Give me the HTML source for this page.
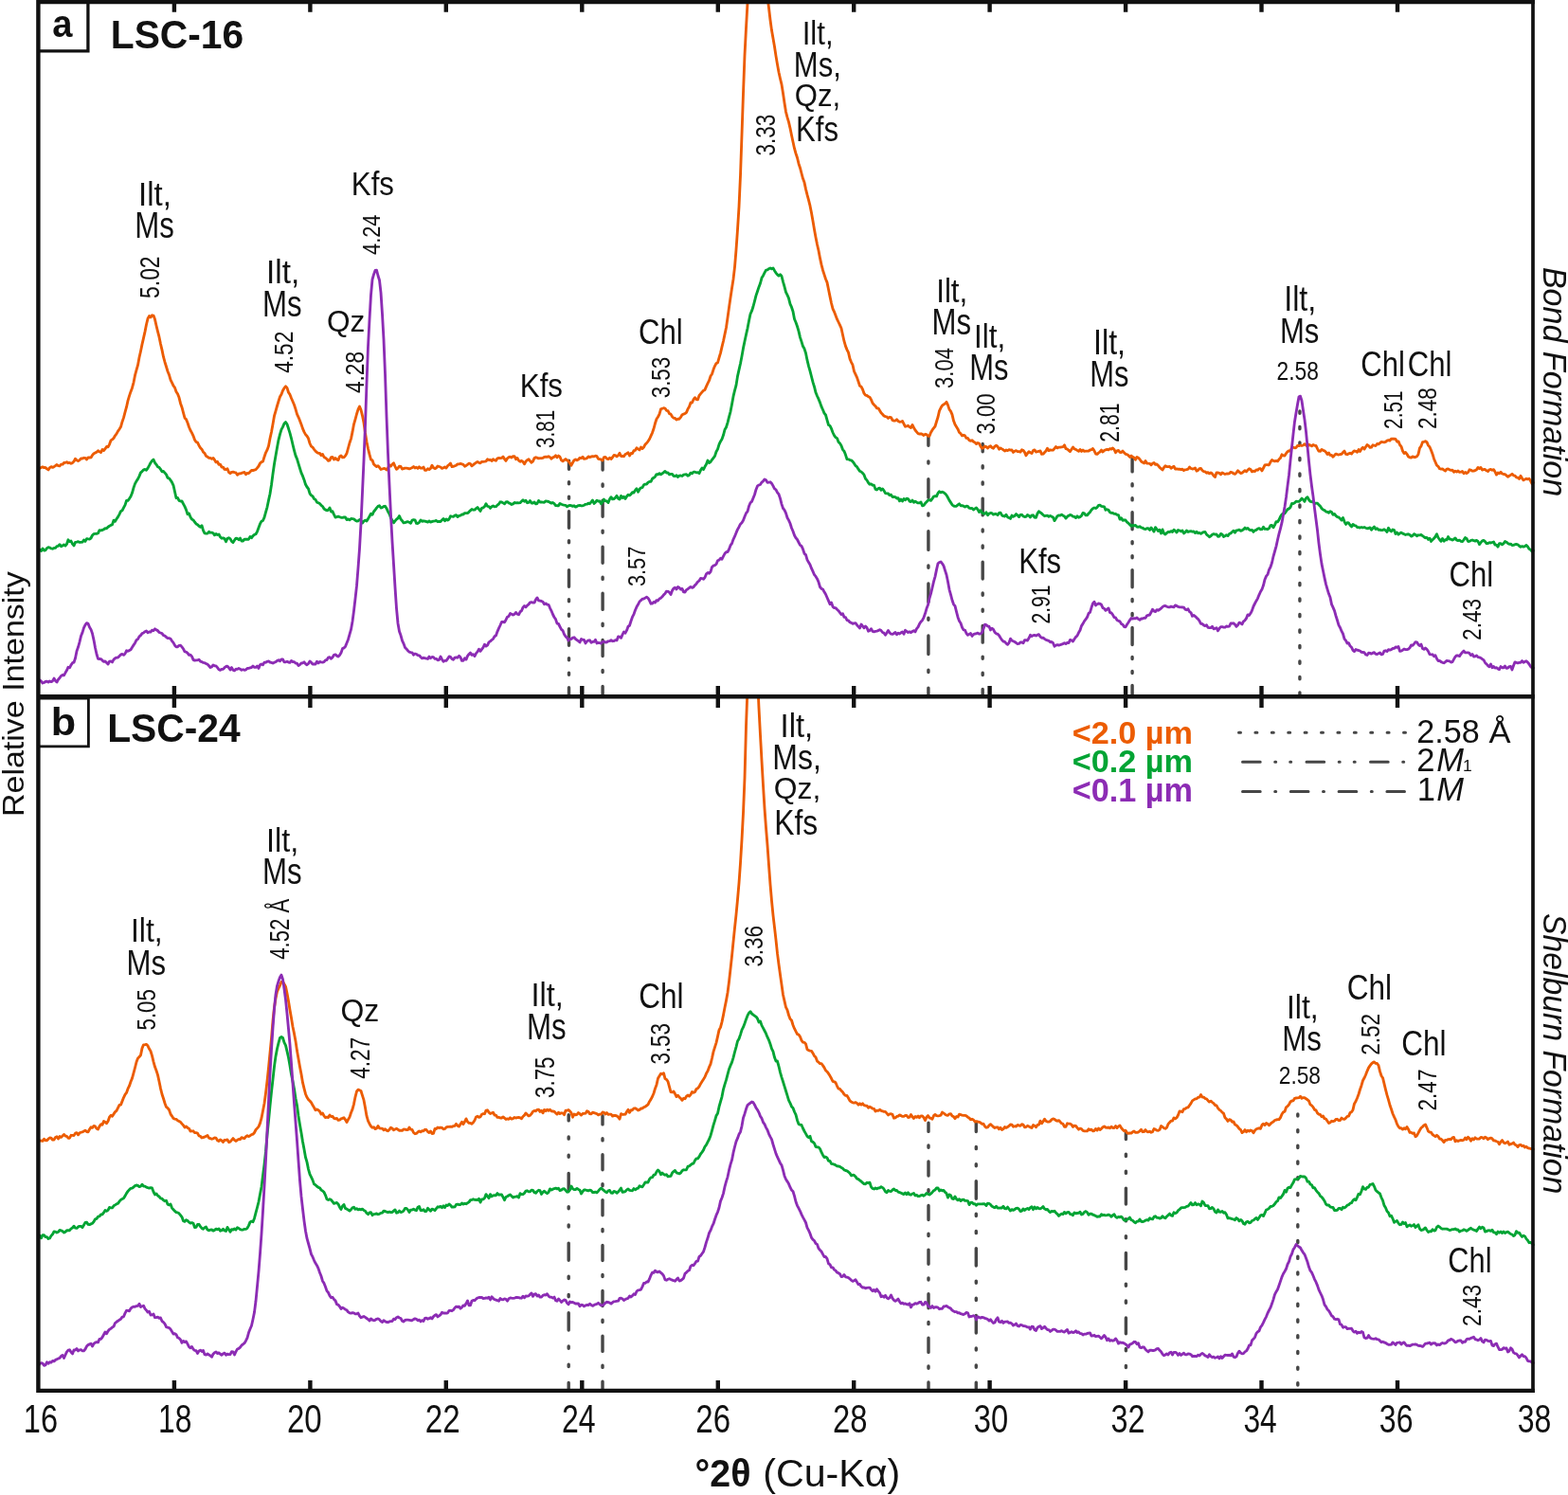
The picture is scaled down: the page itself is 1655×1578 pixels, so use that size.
<!DOCTYPE html><html><head><meta charset="utf-8"><title>XRD patterns LSC-16 and LSC-24</title><style>html,body{margin:0;padding:0;background:#fff;overflow:hidden}svg{display:block}text{font-family:"Liberation Sans",Arial,Helvetica,sans-serif}</style></head><body>
<svg width="1655" height="1578" viewBox="0 0 1655 1578">
<defs><clipPath id="ca"><rect x="40" y="0" width="1580" height="734"/></clipPath><clipPath id="cb"><rect x="40" y="736" width="1580" height="731"/></clipPath></defs>
<rect width="1655" height="1578" fill="#fff"/><g fill="#111">
<g stroke="#464646" stroke-width="3.4" stroke-linecap="round" fill="none">
<line x1="600.5" y1="486.2" x2="600.5" y2="733.0" stroke-dasharray="17.60 13.33 2.20 13.33 2.20 13.33" stroke-dashoffset="8.50"/>
<line x1="636.1" y1="486.2" x2="636.1" y2="733.0" stroke-dasharray="17.10 14.90 2.20 14.90" stroke-dashoffset="7.20"/>
<line x1="979.9" y1="461.0" x2="979.9" y2="733.0" stroke-dasharray="19.60 16.65 2.20 16.65" stroke-dashoffset="10.40"/>
<line x1="1037.2" y1="468.4" x2="1037.2" y2="733.0" stroke-dasharray="17.80 14.97 2.20 14.97 2.20 14.97" stroke-dashoffset="9.40"/>
<line x1="1195.1" y1="483.0" x2="1195.1" y2="733.0" stroke-dasharray="18.10 12.80 2.20 12.80 2.20 12.80" stroke-dashoffset="3.20"/>
<line x1="1371.9" y1="428.0" x2="1371.9" y2="733.0" stroke-dasharray="2.20 14.30" stroke-dashoffset="10.50"/>
<line x1="600.2" y1="1176.7" x2="600.2" y2="1465.5" stroke-dasharray="18.20 17.03 2.20 17.03 2.20 17.03" stroke-dashoffset="12.00"/>
<line x1="636.0" y1="1177.7" x2="636.0" y2="1465.5" stroke-dasharray="16.10 14.80 2.20 14.80" stroke-dashoffset="6.90"/>
<line x1="980.0" y1="1185.2" x2="980.0" y2="1465.5" stroke-dasharray="15.10 14.65 2.20 14.65" stroke-dashoffset="5.90"/>
<line x1="1030.3" y1="1185.2" x2="1030.3" y2="1465.5" stroke-dasharray="18.50 15.97 2.20 15.97 2.20 15.97" stroke-dashoffset="9.20"/>
<line x1="1188.4" y1="1194.6" x2="1188.4" y2="1465.5" stroke-dasharray="16.90 15.70 2.20 15.70 2.20 15.70" stroke-dashoffset="8.90"/>
<line x1="1369.8" y1="1168.0" x2="1369.8" y2="1465.5" stroke-dasharray="2.20 14.50" stroke-dashoffset="8.80"/>
</g>
<g fill="none" stroke-width="2.85" stroke-linejoin="round" stroke-linecap="round">
<g clip-path="url(#ca)">
<path stroke="#EC5C02" d="M40.5 493.7 L42.0 494.2 L43.5 493.4 L45.0 492.9 L46.5 493.6 L48.0 493.4 L49.5 494.9 L51.0 495.9 L52.5 493.6 L54.0 492.6 L55.5 493.4 L57.0 492.7 L58.5 491.6 L60.0 490.5 L61.5 491.7 L63.0 491.9 L64.5 490.1 L66.0 490.2 L67.5 488.5 L69.0 488.3 L70.5 487.7 L72.0 488.7 L73.5 488.4 L75.0 489.2 L76.5 488.6 L78.0 487.1 L79.5 484.2 L81.0 485.7 L82.5 486.6 L84.0 485.6 L85.5 483.9 L87.0 484.0 L88.5 483.3 L90.0 483.4 L91.5 485.0 L93.0 482.9 L94.5 483.0 L96.0 482.9 L97.5 480.4 L99.0 478.7 L100.5 477.9 L102.0 477.2 L103.5 475.7 L105.0 476.8 L106.5 477.6 L108.0 474.5 L109.5 475.5 L111.0 473.8 L112.5 471.4 L114.0 471.9 L115.5 469.1 L117.0 464.9 L118.5 463.9 L120.0 462.5 L121.5 459.8 L123.0 457.9 L124.5 455.1 L126.0 453.0 L127.5 450.6 L129.0 445.2 L130.5 440.9 L132.0 435.2 L133.5 429.7 L135.0 422.9 L136.5 417.9 L138.0 413.4 L139.5 409.4 L141.0 403.8 L142.5 396.2 L144.0 390.7 L145.5 385.4 L147.0 377.3 L148.5 370.7 L150.0 363.4 L151.5 356.9 L153.0 350.1 L154.5 342.5 L156.0 336.3 L157.5 333.6 L159.0 334.9 L160.5 332.8 L162.0 333.1 L163.5 337.1 L165.0 343.7 L166.5 349.9 L168.0 355.7 L169.5 363.0 L171.0 369.4 L172.5 376.7 L174.0 382.2 L175.5 387.0 L177.0 392.0 L178.5 395.6 L180.0 400.8 L181.5 403.9 L183.0 407.2 L184.5 409.1 L186.0 413.5 L187.5 415.8 L189.0 419.6 L190.5 425.7 L192.0 429.9 L193.5 435.6 L195.0 441.2 L196.5 442.6 L198.0 446.2 L199.5 450.7 L201.0 454.2 L202.5 456.9 L204.0 460.1 L205.5 464.2 L207.0 466.5 L208.5 467.1 L210.0 470.2 L211.5 472.7 L213.0 474.2 L214.5 477.2 L216.0 478.3 L217.5 481.3 L219.0 482.2 L220.5 483.3 L222.0 483.4 L223.5 484.2 L225.0 483.4 L226.5 485.4 L228.0 487.9 L229.5 487.3 L231.0 490.4 L232.5 490.1 L234.0 493.0 L235.5 493.1 L237.0 495.4 L238.5 495.5 L240.0 494.7 L241.5 498.5 L243.0 499.6 L244.5 498.3 L246.0 498.2 L247.5 498.7 L249.0 498.9 L250.5 501.3 L252.0 500.0 L253.5 499.9 L255.0 499.4 L256.5 498.8 L258.0 498.5 L259.5 500.8 L261.0 499.4 L262.5 499.6 L264.0 498.0 L265.5 496.4 L267.0 496.5 L268.5 496.1 L270.0 495.7 L271.5 493.9 L273.0 492.0 L274.5 489.0 L276.0 487.6 L277.5 487.2 L279.0 482.2 L280.5 477.8 L282.0 474.9 L283.5 470.8 L285.0 462.8 L286.5 456.0 L288.0 447.7 L289.5 439.0 L291.0 433.8 L292.5 428.5 L294.0 423.5 L295.5 418.8 L297.0 416.2 L298.5 412.3 L300.0 409.7 L301.5 407.8 L303.0 409.4 L304.5 414.2 L306.0 416.4 L307.5 420.2 L309.0 423.7 L310.5 427.3 L312.0 431.9 L313.5 437.1 L315.0 440.3 L316.5 444.0 L318.0 447.9 L319.5 452.4 L321.0 455.9 L322.5 458.6 L324.0 460.3 L325.5 462.8 L327.0 468.0 L328.5 471.1 L330.0 472.1 L331.5 474.3 L333.0 476.1 L334.5 477.5 L336.0 478.4 L337.5 478.4 L339.0 480.6 L340.5 479.4 L342.0 482.5 L343.5 483.3 L345.0 484.5 L346.5 486.3 L348.0 485.8 L349.5 482.6 L351.0 482.5 L352.5 485.0 L354.0 483.6 L355.5 485.0 L357.0 485.6 L358.5 482.0 L360.0 481.0 L361.5 482.8 L363.0 482.7 L364.5 481.1 L366.0 478.5 L367.5 473.0 L369.0 467.5 L370.5 463.1 L372.0 455.9 L373.5 447.8 L375.0 442.6 L376.5 437.0 L378.0 432.1 L379.5 429.0 L381.0 432.6 L382.5 438.8 L384.0 446.3 L385.5 457.0 L387.0 466.2 L388.5 473.6 L390.0 479.7 L391.5 485.2 L393.0 485.8 L394.5 490.0 L396.0 491.4 L397.5 492.5 L399.0 491.6 L400.5 493.4 L402.0 495.5 L403.5 495.0 L405.0 494.5 L406.5 494.7 L408.0 496.0 L409.5 494.0 L411.0 490.9 L412.5 492.0 L414.0 490.1 L415.5 488.8 L417.0 492.4 L418.5 495.3 L420.0 494.1 L421.5 492.1 L423.0 492.5 L424.5 495.1 L426.0 494.5 L427.5 494.1 L429.0 494.1 L430.5 494.3 L432.0 494.8 L433.5 494.3 L435.0 493.7 L436.5 492.5 L438.0 494.0 L439.5 493.3 L441.0 494.4 L442.5 492.8 L444.0 494.1 L445.5 494.2 L447.0 493.0 L448.5 496.3 L450.0 496.4 L451.5 494.8 L453.0 495.6 L454.5 494.4 L456.0 491.2 L457.5 493.8 L459.0 494.6 L460.5 493.9 L462.0 492.0 L463.5 492.5 L465.0 493.0 L466.5 494.4 L468.0 493.7 L469.5 492.9 L471.0 494.0 L472.5 491.7 L474.0 490.6 L475.5 489.1 L477.0 492.6 L478.5 492.4 L480.0 491.8 L481.5 491.2 L483.0 489.9 L484.5 489.8 L486.0 489.4 L487.5 489.9 L489.0 490.4 L490.5 492.2 L492.0 491.4 L493.5 490.3 L495.0 489.2 L496.5 489.7 L498.0 491.8 L499.5 490.7 L501.0 489.4 L502.5 488.3 L504.0 487.4 L505.5 488.4 L507.0 488.8 L508.5 487.4 L510.0 487.3 L511.5 487.2 L513.0 486.9 L514.5 484.8 L516.0 485.5 L517.5 485.3 L519.0 486.5 L520.5 484.7 L522.0 485.7 L523.5 486.3 L525.0 483.8 L526.5 483.4 L528.0 483.7 L529.5 483.4 L531.0 482.1 L532.5 484.5 L534.0 486.4 L535.5 483.8 L537.0 482.7 L538.5 482.2 L540.0 483.0 L541.5 481.6 L543.0 481.6 L544.5 484.7 L546.0 483.4 L547.5 486.1 L549.0 487.2 L550.5 486.3 L552.0 487.4 L553.5 489.8 L555.0 487.0 L556.5 485.6 L558.0 484.7 L559.5 486.6 L561.0 488.2 L562.5 486.9 L564.0 483.6 L565.5 482.8 L567.0 483.2 L568.5 483.9 L570.0 483.6 L571.5 483.7 L573.0 483.4 L574.5 482.3 L576.0 482.1 L577.5 482.4 L579.0 481.7 L580.5 482.6 L582.0 484.2 L583.5 482.9 L585.0 482.2 L586.5 480.8 L588.0 482.8 L589.5 481.1 L591.0 482.2 L592.5 485.8 L594.0 486.7 L595.5 485.7 L597.0 484.5 L598.5 485.8 L600.0 486.7 L601.5 489.0 L603.0 491.2 L604.5 488.3 L606.0 485.7 L607.5 484.9 L609.0 485.8 L610.5 485.0 L612.0 483.3 L613.5 483.6 L615.0 482.2 L616.5 484.3 L618.0 484.2 L619.5 483.7 L621.0 481.9 L622.5 482.6 L624.0 482.0 L625.5 481.7 L627.0 481.8 L628.5 481.2 L630.0 481.7 L631.5 484.4 L633.0 484.6 L634.5 485.1 L636.0 486.0 L637.5 482.6 L639.0 482.4 L640.5 484.1 L642.0 484.6 L643.5 483.2 L645.0 484.5 L646.5 482.8 L648.0 480.5 L649.5 480.7 L651.0 481.9 L652.5 480.7 L654.0 478.3 L655.5 481.5 L657.0 481.3 L658.5 481.7 L660.0 479.5 L661.5 478.7 L663.0 477.8 L664.5 480.9 L666.0 478.4 L667.5 478.7 L669.0 475.7 L670.5 475.3 L672.0 472.8 L673.5 474.0 L675.0 474.9 L676.5 472.1 L678.0 473.6 L679.5 472.0 L681.0 469.1 L682.5 467.7 L684.0 465.8 L685.5 463.5 L687.0 460.2 L688.5 456.8 L690.0 452.5 L691.5 446.8 L693.0 442.2 L694.5 440.0 L696.0 437.1 L697.5 431.9 L699.0 431.3 L700.5 430.7 L702.0 431.1 L703.5 433.3 L705.0 433.6 L706.5 436.6 L708.0 437.1 L709.5 439.8 L711.0 441.2 L712.5 441.5 L714.0 443.1 L715.5 442.2 L717.0 442.2 L718.5 440.4 L720.0 437.7 L721.5 437.1 L723.0 436.5 L724.5 435.4 L726.0 431.7 L727.5 429.3 L729.0 425.0 L730.5 425.0 L732.0 421.7 L733.5 419.7 L735.0 421.6 L736.5 421.8 L738.0 417.5 L739.5 415.7 L741.0 413.9 L742.5 412.2 L744.0 411.4 L745.5 407.9 L747.0 404.7 L748.5 401.7 L750.0 397.0 L751.5 394.8 L753.0 390.1 L754.5 386.3 L756.0 383.5 L757.5 382.9 L759.0 377.7 L760.5 372.6 L762.0 366.2 L763.5 360.0 L765.0 352.9 L766.5 345.8 L768.0 335.4 L769.5 324.6 L771.0 314.3 L772.5 304.3 L774.0 294.7 L775.5 281.8 L777.0 263.7 L778.5 242.4 L780.0 218.3 L781.5 185.3 L783.0 142.1 L784.5 98.4 L786.0 58.3 L787.5 29.5 L789.0 3.1 L790.5 -21.8 L792.0 -45.6 L793.5 -65.2 L795.0 -78.4 L796.5 -87.3 L798.0 -89.8 L799.5 -86.9 L801.0 -80.4 L802.5 -69.0 L804.0 -56.2 L805.5 -42.7 L807.0 -29.0 L808.5 -16.2 L810.0 -3.3 L811.5 8.3 L813.0 21.0 L814.5 32.1 L816.0 40.5 L817.5 49.2 L819.0 59.1 L820.5 68.1 L822.0 76.3 L823.5 83.0 L825.0 89.1 L826.5 98.5 L828.0 108.8 L829.5 118.1 L831.0 123.9 L832.5 128.9 L834.0 135.3 L835.5 142.8 L837.0 149.7 L838.5 156.7 L840.0 162.0 L841.5 166.5 L843.0 172.7 L844.5 177.2 L846.0 183.0 L847.5 188.6 L849.0 192.6 L850.5 199.6 L852.0 205.7 L853.5 211.1 L855.0 217.2 L856.5 224.8 L858.0 233.2 L859.5 242.3 L861.0 250.4 L862.5 258.0 L864.0 264.5 L865.5 272.4 L867.0 279.4 L868.5 285.2 L870.0 289.9 L871.5 294.5 L873.0 298.1 L874.5 305.5 L876.0 312.9 L877.5 320.0 L879.0 325.9 L880.5 329.1 L882.0 333.0 L883.5 336.9 L885.0 340.0 L886.5 343.1 L888.0 346.5 L889.5 353.5 L891.0 360.2 L892.5 365.4 L894.0 369.1 L895.5 372.2 L897.0 378.6 L898.5 382.3 L900.0 385.2 L901.5 392.0 L903.0 395.2 L904.5 398.4 L906.0 402.7 L907.5 407.3 L909.0 408.1 L910.5 411.0 L912.0 415.2 L913.5 417.2 L915.0 417.5 L916.5 418.6 L918.0 419.2 L919.5 421.9 L921.0 425.5 L922.5 427.2 L924.0 428.7 L925.5 430.8 L927.0 430.8 L928.5 433.2 L930.0 435.8 L931.5 437.3 L933.0 439.0 L934.5 439.6 L936.0 439.9 L937.5 441.4 L939.0 440.3 L940.5 440.6 L942.0 443.5 L943.5 444.1 L945.0 444.0 L946.5 442.8 L948.0 444.5 L949.5 445.3 L951.0 445.2 L952.5 444.4 L954.0 447.5 L955.5 450.2 L957.0 449.8 L958.5 449.3 L960.0 450.7 L961.5 451.4 L963.0 448.4 L964.5 451.5 L966.0 454.0 L967.5 455.8 L969.0 457.6 L970.5 458.0 L972.0 457.8 L973.5 458.4 L975.0 459.5 L976.5 458.3 L978.0 458.6 L979.5 460.3 L981.0 460.3 L982.5 456.4 L984.0 453.9 L985.5 451.9 L987.0 450.0 L988.5 445.0 L990.0 440.3 L991.5 433.6 L993.0 430.6 L994.5 428.1 L996.0 426.9 L997.5 426.1 L999.0 424.3 L1000.5 427.6 L1002.0 432.1 L1003.5 434.1 L1005.0 437.6 L1006.5 444.1 L1008.0 448.0 L1009.5 450.5 L1011.0 452.9 L1012.5 456.5 L1014.0 457.7 L1015.5 459.9 L1017.0 459.2 L1018.5 459.9 L1020.0 462.4 L1021.5 462.4 L1023.0 464.8 L1024.5 465.4 L1026.0 464.7 L1027.5 466.3 L1029.0 467.0 L1030.5 468.6 L1032.0 467.5 L1033.5 468.1 L1035.0 471.1 L1036.5 473.1 L1038.0 472.9 L1039.5 471.0 L1041.0 471.6 L1042.5 473.1 L1044.0 471.6 L1045.5 470.8 L1047.0 472.5 L1048.5 473.2 L1050.0 471.2 L1051.5 470.2 L1053.0 471.4 L1054.5 474.2 L1056.0 472.9 L1057.5 473.9 L1059.0 474.8 L1060.5 476.0 L1062.0 475.0 L1063.5 475.6 L1065.0 474.6 L1066.5 475.1 L1068.0 474.9 L1069.5 477.4 L1071.0 476.2 L1072.5 475.6 L1074.0 476.5 L1075.5 476.6 L1077.0 477.1 L1078.5 474.8 L1080.0 475.3 L1081.5 477.4 L1083.0 480.8 L1084.5 478.5 L1086.0 476.8 L1087.5 477.8 L1089.0 478.5 L1090.5 475.6 L1092.0 474.9 L1093.5 477.0 L1095.0 476.7 L1096.5 476.3 L1098.0 475.9 L1099.5 479.3 L1101.0 479.2 L1102.5 477.5 L1104.0 476.0 L1105.5 473.3 L1107.0 475.6 L1108.5 474.9 L1110.0 475.1 L1111.5 475.1 L1113.0 473.3 L1114.5 471.5 L1116.0 472.9 L1117.5 472.1 L1119.0 472.2 L1120.5 471.9 L1122.0 471.6 L1123.5 469.8 L1125.0 473.7 L1126.5 474.0 L1128.0 475.3 L1129.5 476.6 L1131.0 474.2 L1132.5 472.0 L1134.0 473.8 L1135.5 474.3 L1137.0 475.4 L1138.5 476.3 L1140.0 474.4 L1141.5 476.4 L1143.0 475.0 L1144.5 476.3 L1146.0 476.2 L1147.5 476.1 L1149.0 476.0 L1150.5 475.0 L1152.0 474.6 L1153.5 473.5 L1155.0 475.8 L1156.5 479.0 L1158.0 479.4 L1159.5 477.9 L1161.0 477.0 L1162.5 475.1 L1164.0 477.0 L1165.5 475.5 L1167.0 474.8 L1168.5 474.3 L1170.0 474.8 L1171.5 473.7 L1173.0 474.1 L1174.5 472.9 L1176.0 474.4 L1177.5 477.7 L1179.0 475.8 L1180.5 475.4 L1182.0 477.3 L1183.5 477.6 L1185.0 476.1 L1186.5 477.8 L1188.0 479.3 L1189.5 479.6 L1191.0 480.7 L1192.5 482.4 L1194.0 481.1 L1195.5 482.4 L1197.0 483.0 L1198.5 485.2 L1200.0 482.4 L1201.5 483.3 L1203.0 484.8 L1204.5 487.0 L1206.0 488.0 L1207.5 488.9 L1209.0 486.5 L1210.5 489.0 L1212.0 489.2 L1213.5 489.3 L1215.0 490.8 L1216.5 489.3 L1218.0 488.4 L1219.5 490.4 L1221.0 489.9 L1222.5 491.4 L1224.0 493.4 L1225.5 494.6 L1227.0 496.0 L1228.5 493.5 L1230.0 491.8 L1231.5 492.6 L1233.0 492.6 L1234.5 492.4 L1236.0 494.2 L1237.5 493.2 L1239.0 492.2 L1240.5 495.1 L1242.0 495.0 L1243.5 495.2 L1245.0 495.2 L1246.5 495.7 L1248.0 495.2 L1249.5 496.6 L1251.0 495.8 L1252.5 495.7 L1254.0 495.2 L1255.5 493.0 L1257.0 494.5 L1258.5 495.0 L1260.0 494.8 L1261.5 493.9 L1263.0 497.1 L1264.5 496.4 L1266.0 494.7 L1267.5 494.4 L1269.0 496.5 L1270.5 497.7 L1272.0 497.9 L1273.5 499.3 L1275.0 498.6 L1276.5 499.9 L1278.0 498.9 L1279.5 500.0 L1281.0 502.1 L1282.5 503.5 L1284.0 498.9 L1285.5 499.0 L1287.0 499.3 L1288.5 500.8 L1290.0 498.9 L1291.5 499.8 L1293.0 500.5 L1294.5 500.0 L1296.0 500.0 L1297.5 499.9 L1299.0 498.2 L1300.5 498.8 L1302.0 499.8 L1303.5 500.3 L1305.0 499.0 L1306.5 496.8 L1308.0 498.1 L1309.5 499.5 L1311.0 499.1 L1312.5 497.9 L1314.0 496.7 L1315.5 497.8 L1317.0 496.1 L1318.5 494.8 L1320.0 495.5 L1321.5 497.9 L1323.0 497.2 L1324.5 497.6 L1326.0 495.9 L1327.5 496.2 L1329.0 494.6 L1330.5 494.7 L1332.0 496.9 L1333.5 494.0 L1335.0 491.0 L1336.5 490.6 L1338.0 490.7 L1339.5 490.7 L1341.0 487.6 L1342.5 485.5 L1344.0 486.4 L1345.5 486.8 L1347.0 486.4 L1348.5 486.8 L1350.0 484.8 L1351.5 483.4 L1353.0 479.8 L1354.5 480.9 L1356.0 481.0 L1357.5 478.6 L1359.0 476.7 L1360.5 475.8 L1362.0 476.0 L1363.5 472.6 L1365.0 472.2 L1366.5 472.8 L1368.0 472.5 L1369.5 470.4 L1371.0 470.6 L1372.5 470.0 L1374.0 470.5 L1375.5 470.0 L1377.0 468.7 L1378.5 469.7 L1380.0 471.2 L1381.5 469.2 L1383.0 470.0 L1384.5 470.9 L1386.0 469.5 L1387.5 470.3 L1389.0 470.4 L1390.5 473.6 L1392.0 476.2 L1393.5 476.3 L1395.0 474.4 L1396.5 475.3 L1398.0 475.8 L1399.5 477.2 L1401.0 479.5 L1402.5 478.0 L1404.0 480.4 L1405.5 480.5 L1407.0 482.2 L1408.5 480.6 L1410.0 479.1 L1411.5 479.6 L1413.0 480.0 L1414.5 479.5 L1416.0 479.3 L1417.5 477.5 L1419.0 476.1 L1420.5 479.4 L1422.0 479.7 L1423.5 478.8 L1425.0 478.2 L1426.5 479.1 L1428.0 477.2 L1429.5 475.9 L1431.0 476.3 L1432.5 477.2 L1434.0 474.6 L1435.5 476.5 L1437.0 473.8 L1438.5 472.3 L1440.0 474.1 L1441.5 471.8 L1443.0 469.6 L1444.5 470.4 L1446.0 472.3 L1447.5 472.1 L1449.0 469.8 L1450.5 470.2 L1452.0 470.5 L1453.5 468.5 L1455.0 468.8 L1456.5 467.6 L1458.0 466.5 L1459.5 466.6 L1461.0 466.8 L1462.5 466.4 L1464.0 465.1 L1465.5 464.6 L1467.0 465.0 L1468.5 463.2 L1470.0 463.2 L1471.5 463.2 L1473.0 463.3 L1474.5 466.2 L1476.0 465.9 L1477.5 469.5 L1479.0 471.3 L1480.5 476.0 L1482.0 478.6 L1483.5 477.4 L1485.0 479.3 L1486.5 482.0 L1488.0 482.8 L1489.5 483.0 L1491.0 481.9 L1492.5 482.5 L1494.0 482.5 L1495.5 481.8 L1497.0 479.4 L1498.5 472.9 L1500.0 470.9 L1501.5 466.6 L1503.0 466.3 L1504.5 465.7 L1506.0 466.7 L1507.5 470.1 L1509.0 471.7 L1510.5 475.2 L1512.0 479.2 L1513.5 484.2 L1515.0 487.8 L1516.5 491.2 L1518.0 492.3 L1519.5 494.7 L1521.0 495.1 L1522.5 494.9 L1524.0 496.1 L1525.5 497.0 L1527.0 495.1 L1528.5 495.0 L1530.0 495.9 L1531.5 496.3 L1533.0 496.1 L1534.5 498.3 L1536.0 497.3 L1537.5 498.1 L1539.0 497.0 L1540.5 498.3 L1542.0 498.1 L1543.5 497.5 L1545.0 499.7 L1546.5 498.5 L1548.0 499.5 L1549.5 498.6 L1551.0 495.8 L1552.5 496.1 L1554.0 497.2 L1555.5 497.0 L1557.0 496.6 L1558.5 495.7 L1560.0 493.4 L1561.5 494.7 L1563.0 493.4 L1564.5 496.1 L1566.0 495.5 L1567.5 495.5 L1569.0 496.8 L1570.5 497.5 L1572.0 495.8 L1573.5 495.4 L1575.0 496.2 L1576.5 495.6 L1578.0 498.0 L1579.5 501.1 L1581.0 499.0 L1582.5 499.8 L1584.0 498.3 L1585.5 500.0 L1587.0 500.5 L1588.5 500.7 L1590.0 501.9 L1591.5 503.3 L1593.0 502.3 L1594.5 501.4 L1596.0 500.3 L1597.5 501.8 L1599.0 502.1 L1600.5 503.8 L1602.0 504.2 L1603.5 505.4 L1605.0 502.3 L1606.5 504.8 L1608.0 506.8 L1609.5 506.0 L1611.0 505.3 L1612.5 505.8 L1614.0 505.2 L1615.5 507.6 L1617.0 510.7 L1618.5 509.5"/>
<path stroke="#02A434" d="M40.5 581.1 L42.0 580.1 L43.5 581.5 L45.0 578.9 L46.5 581.0 L48.0 580.8 L49.5 578.6 L51.0 577.7 L52.5 578.1 L54.0 578.9 L55.5 579.2 L57.0 578.4 L58.5 578.4 L60.0 576.6 L61.5 576.3 L63.0 574.7 L64.5 576.7 L66.0 576.0 L67.5 574.9 L69.0 576.0 L70.5 574.3 L72.0 569.8 L73.5 571.6 L75.0 571.0 L76.5 574.1 L78.0 575.9 L79.5 572.4 L81.0 572.1 L82.5 571.7 L84.0 572.4 L85.5 572.3 L87.0 572.2 L88.5 570.0 L90.0 571.4 L91.5 568.6 L93.0 568.9 L94.5 569.1 L96.0 568.0 L97.5 565.0 L99.0 563.7 L100.5 563.4 L102.0 563.4 L103.5 562.8 L105.0 559.6 L106.5 559.8 L108.0 559.5 L109.5 558.7 L111.0 557.7 L112.5 557.8 L114.0 556.3 L115.5 555.3 L117.0 554.4 L118.5 553.7 L120.0 549.1 L121.5 550.3 L123.0 547.8 L124.5 545.6 L126.0 542.8 L127.5 539.7 L129.0 538.8 L130.5 535.9 L132.0 533.1 L133.5 528.5 L135.0 528.3 L136.5 526.3 L138.0 524.0 L139.5 520.3 L141.0 514.9 L142.5 510.6 L144.0 507.8 L145.5 505.7 L147.0 502.6 L148.5 498.9 L150.0 497.6 L151.5 495.8 L153.0 495.5 L154.5 496.3 L156.0 494.1 L157.5 491.4 L159.0 488.5 L160.5 486.4 L162.0 485.1 L163.5 488.5 L165.0 490.3 L166.5 492.8 L168.0 493.4 L169.5 495.3 L171.0 497.9 L172.5 497.5 L174.0 499.1 L175.5 500.9 L177.0 504.4 L178.5 504.8 L180.0 506.8 L181.5 509.1 L183.0 512.3 L184.5 519.0 L186.0 525.7 L187.5 525.5 L189.0 528.4 L190.5 529.0 L192.0 529.0 L193.5 531.9 L195.0 534.7 L196.5 538.1 L198.0 542.8 L199.5 542.0 L201.0 545.8 L202.5 548.1 L204.0 548.9 L205.5 551.0 L207.0 552.9 L208.5 553.7 L210.0 555.3 L211.5 556.3 L213.0 554.7 L214.5 559.8 L216.0 562.9 L217.5 563.2 L219.0 563.1 L220.5 561.3 L222.0 562.2 L223.5 562.1 L225.0 562.7 L226.5 564.8 L228.0 563.5 L229.5 564.5 L231.0 564.0 L232.5 566.8 L234.0 568.2 L235.5 567.9 L237.0 568.6 L238.5 571.7 L240.0 568.3 L241.5 567.7 L243.0 568.6 L244.5 571.4 L246.0 572.6 L247.5 570.2 L249.0 568.1 L250.5 568.5 L252.0 569.7 L253.5 568.1 L255.0 571.1 L256.5 571.0 L258.0 569.2 L259.5 569.2 L261.0 569.2 L262.5 569.2 L264.0 566.4 L265.5 567.7 L267.0 565.6 L268.5 564.4 L270.0 563.8 L271.5 561.1 L273.0 557.1 L274.5 552.9 L276.0 550.2 L277.5 549.5 L279.0 546.2 L280.5 540.6 L282.0 535.3 L283.5 528.1 L285.0 521.3 L286.5 511.8 L288.0 500.3 L289.5 489.7 L291.0 481.0 L292.5 472.6 L294.0 464.3 L295.5 458.4 L297.0 453.4 L298.5 450.6 L300.0 447.0 L301.5 445.6 L303.0 447.8 L304.5 452.3 L306.0 457.2 L307.5 462.8 L309.0 469.3 L310.5 475.3 L312.0 480.9 L313.5 484.4 L315.0 489.4 L316.5 494.2 L318.0 499.1 L319.5 502.4 L321.0 506.4 L322.5 511.3 L324.0 514.0 L325.5 515.9 L327.0 520.8 L328.5 522.9 L330.0 523.8 L331.5 526.5 L333.0 527.4 L334.5 530.2 L336.0 530.8 L337.5 531.6 L339.0 533.3 L340.5 534.5 L342.0 537.0 L343.5 538.1 L345.0 538.8 L346.5 538.3 L348.0 536.0 L349.5 540.1 L351.0 539.8 L352.5 543.2 L354.0 546.0 L355.5 545.6 L357.0 545.1 L358.5 545.7 L360.0 546.3 L361.5 546.3 L363.0 546.0 L364.5 546.0 L366.0 548.6 L367.5 547.9 L369.0 548.8 L370.5 547.5 L372.0 547.7 L373.5 547.9 L375.0 549.2 L376.5 550.0 L378.0 549.8 L379.5 548.5 L381.0 549.4 L382.5 552.1 L384.0 550.1 L385.5 549.1 L387.0 549.9 L388.5 547.6 L390.0 545.0 L391.5 542.3 L393.0 543.3 L394.5 540.0 L396.0 538.3 L397.5 536.1 L399.0 534.4 L400.5 533.8 L402.0 536.0 L403.5 535.7 L405.0 534.5 L406.5 534.3 L408.0 536.6 L409.5 539.9 L411.0 542.4 L412.5 546.8 L414.0 549.3 L415.5 551.8 L417.0 549.9 L418.5 548.1 L420.0 547.0 L421.5 544.6 L423.0 548.0 L424.5 549.7 L426.0 551.8 L427.5 551.6 L429.0 551.0 L430.5 550.7 L432.0 551.3 L433.5 552.3 L435.0 549.1 L436.5 548.7 L438.0 548.8 L439.5 552.4 L441.0 552.5 L442.5 551.3 L444.0 548.9 L445.5 550.3 L447.0 549.8 L448.5 550.1 L450.0 550.5 L451.5 551.1 L453.0 549.9 L454.5 551.1 L456.0 550.5 L457.5 550.2 L459.0 549.9 L460.5 549.5 L462.0 550.7 L463.5 550.4 L465.0 550.5 L466.5 548.9 L468.0 547.4 L469.5 549.7 L471.0 548.0 L472.5 549.1 L474.0 548.0 L475.5 544.8 L477.0 545.2 L478.5 545.4 L480.0 544.2 L481.5 543.7 L483.0 545.6 L484.5 544.4 L486.0 544.2 L487.5 543.0 L489.0 543.1 L490.5 541.6 L492.0 541.6 L493.5 541.6 L495.0 540.3 L496.5 538.8 L498.0 537.5 L499.5 538.2 L501.0 538.1 L502.5 536.7 L504.0 535.6 L505.5 537.5 L507.0 539.5 L508.5 536.4 L510.0 535.9 L511.5 534.7 L513.0 531.7 L514.5 534.4 L516.0 534.6 L517.5 536.4 L519.0 534.8 L520.5 534.0 L522.0 534.8 L523.5 534.7 L525.0 533.1 L526.5 532.0 L528.0 529.8 L529.5 530.0 L531.0 530.9 L532.5 531.8 L534.0 530.0 L535.5 529.6 L537.0 530.9 L538.5 531.5 L540.0 532.5 L541.5 531.9 L543.0 530.5 L544.5 530.8 L546.0 530.7 L547.5 530.9 L549.0 530.7 L550.5 529.1 L552.0 527.8 L553.5 529.2 L555.0 528.3 L556.5 530.7 L558.0 530.3 L559.5 528.5 L561.0 531.0 L562.5 531.0 L564.0 530.0 L565.5 531.9 L567.0 531.5 L568.5 528.4 L570.0 530.0 L571.5 530.0 L573.0 530.1 L574.5 530.3 L576.0 528.9 L577.5 529.1 L579.0 529.5 L580.5 530.4 L582.0 531.1 L583.5 530.5 L585.0 531.7 L586.5 533.6 L588.0 533.7 L589.5 533.7 L591.0 531.4 L592.5 532.2 L594.0 532.8 L595.5 533.1 L597.0 533.3 L598.5 534.9 L600.0 533.9 L601.5 533.4 L603.0 533.7 L604.5 534.4 L606.0 533.8 L607.5 535.1 L609.0 534.4 L610.5 533.6 L612.0 533.4 L613.5 533.8 L615.0 533.8 L616.5 533.2 L618.0 532.3 L619.5 532.2 L621.0 531.2 L622.5 531.7 L624.0 529.9 L625.5 528.0 L627.0 531.5 L628.5 530.2 L630.0 528.2 L631.5 529.0 L633.0 529.0 L634.5 531.7 L636.0 529.6 L637.5 527.1 L639.0 528.9 L640.5 529.0 L642.0 530.6 L643.5 526.8 L645.0 524.7 L646.5 526.8 L648.0 526.5 L649.5 525.4 L651.0 523.3 L652.5 526.2 L654.0 527.1 L655.5 523.4 L657.0 525.5 L658.5 524.2 L660.0 526.4 L661.5 524.0 L663.0 522.3 L664.5 522.9 L666.0 521.6 L667.5 519.6 L669.0 520.0 L670.5 517.4 L672.0 515.7 L673.5 519.2 L675.0 516.5 L676.5 514.8 L678.0 514.7 L679.5 511.8 L681.0 511.1 L682.5 511.0 L684.0 509.3 L685.5 508.4 L687.0 508.3 L688.5 505.3 L690.0 504.3 L691.5 503.1 L693.0 500.6 L694.5 500.8 L696.0 499.8 L697.5 500.8 L699.0 499.8 L700.5 498.7 L702.0 497.4 L703.5 499.0 L705.0 498.9 L706.5 500.8 L708.0 500.4 L709.5 500.4 L711.0 502.4 L712.5 502.6 L714.0 501.7 L715.5 503.5 L717.0 502.2 L718.5 502.0 L720.0 502.5 L721.5 501.2 L723.0 500.9 L724.5 500.7 L726.0 502.2 L727.5 501.5 L729.0 499.1 L730.5 499.8 L732.0 498.1 L733.5 498.2 L735.0 498.8 L736.5 498.6 L738.0 499.6 L739.5 496.3 L741.0 494.0 L742.5 495.5 L744.0 492.6 L745.5 490.1 L747.0 486.0 L748.5 488.5 L750.0 487.5 L751.5 485.3 L753.0 483.3 L754.5 481.4 L756.0 476.8 L757.5 474.1 L759.0 469.1 L760.5 465.9 L762.0 463.5 L763.5 459.3 L765.0 453.5 L766.5 451.0 L768.0 446.1 L769.5 440.2 L771.0 434.6 L772.5 426.7 L774.0 418.4 L775.5 412.2 L777.0 406.6 L778.5 397.1 L780.0 390.4 L781.5 383.7 L783.0 376.0 L784.5 367.4 L786.0 360.2 L787.5 353.2 L789.0 346.6 L790.5 338.7 L792.0 331.5 L793.5 328.2 L795.0 323.5 L796.5 317.9 L798.0 311.9 L799.5 307.5 L801.0 302.9 L802.5 299.0 L804.0 293.3 L805.5 290.9 L807.0 287.9 L808.5 285.1 L810.0 284.9 L811.5 283.7 L813.0 283.0 L814.5 283.8 L816.0 282.9 L817.5 285.7 L819.0 288.1 L820.5 289.8 L822.0 291.1 L823.5 289.7 L825.0 291.5 L826.5 297.3 L828.0 302.6 L829.5 308.3 L831.0 311.3 L832.5 314.9 L834.0 320.8 L835.5 324.2 L837.0 328.8 L838.5 336.7 L840.0 340.2 L841.5 344.5 L843.0 349.7 L844.5 356.1 L846.0 360.6 L847.5 365.6 L849.0 368.1 L850.5 372.7 L852.0 380.2 L853.5 386.3 L855.0 391.6 L856.5 397.5 L858.0 403.4 L859.5 408.2 L861.0 414.3 L862.5 418.0 L864.0 421.2 L865.5 424.9 L867.0 429.2 L868.5 432.5 L870.0 436.1 L871.5 438.0 L873.0 443.3 L874.5 448.5 L876.0 449.4 L877.5 452.4 L879.0 456.5 L880.5 459.6 L882.0 461.6 L883.5 462.6 L885.0 466.4 L886.5 467.9 L888.0 470.5 L889.5 474.6 L891.0 476.2 L892.5 480.1 L894.0 484.7 L895.5 484.8 L897.0 485.6 L898.5 485.9 L900.0 487.2 L901.5 489.2 L903.0 491.6 L904.5 492.7 L906.0 495.2 L907.5 497.3 L909.0 498.0 L910.5 499.3 L912.0 501.2 L913.5 505.2 L915.0 506.9 L916.5 509.5 L918.0 511.2 L919.5 510.9 L921.0 512.2 L922.5 512.1 L924.0 516.4 L925.5 517.0 L927.0 515.7 L928.5 515.2 L930.0 517.3 L931.5 515.9 L933.0 517.8 L934.5 520.6 L936.0 520.8 L937.5 521.0 L939.0 522.7 L940.5 522.2 L942.0 524.5 L943.5 524.4 L945.0 524.6 L946.5 526.1 L948.0 525.6 L949.5 528.8 L951.0 527.0 L952.5 529.0 L954.0 526.4 L955.5 527.8 L957.0 526.2 L958.5 526.6 L960.0 529.1 L961.5 529.6 L963.0 528.0 L964.5 530.3 L966.0 529.1 L967.5 530.2 L969.0 530.9 L970.5 530.9 L972.0 529.9 L973.5 533.8 L975.0 533.3 L976.5 531.3 L978.0 529.8 L979.5 528.1 L981.0 527.6 L982.5 528.4 L984.0 526.3 L985.5 524.1 L987.0 523.7 L988.5 523.9 L990.0 520.5 L991.5 518.8 L993.0 519.9 L994.5 519.2 L996.0 519.8 L997.5 521.0 L999.0 522.6 L1000.5 525.3 L1002.0 528.1 L1003.5 530.4 L1005.0 532.8 L1006.5 534.0 L1008.0 534.4 L1009.5 534.3 L1011.0 532.9 L1012.5 531.8 L1014.0 533.7 L1015.5 533.7 L1017.0 534.2 L1018.5 535.0 L1020.0 534.2 L1021.5 534.5 L1023.0 536.2 L1024.5 536.6 L1026.0 536.5 L1027.5 538.0 L1029.0 536.9 L1030.5 536.0 L1032.0 537.8 L1033.5 540.5 L1035.0 538.8 L1036.5 541.0 L1038.0 542.1 L1039.5 542.4 L1041.0 540.8 L1042.5 543.7 L1044.0 542.1 L1045.5 541.5 L1047.0 541.7 L1048.5 543.1 L1050.0 542.5 L1051.5 542.5 L1053.0 543.7 L1054.5 541.5 L1056.0 541.1 L1057.5 543.9 L1059.0 544.7 L1060.5 545.0 L1062.0 543.3 L1063.5 545.9 L1065.0 546.5 L1066.5 547.4 L1068.0 544.1 L1069.5 545.3 L1071.0 544.5 L1072.5 542.6 L1074.0 543.8 L1075.5 545.6 L1077.0 543.4 L1078.5 543.3 L1080.0 544.9 L1081.5 545.5 L1083.0 545.3 L1084.5 543.5 L1086.0 544.4 L1087.5 546.0 L1089.0 543.9 L1090.5 543.8 L1092.0 546.1 L1093.5 546.3 L1095.0 542.1 L1096.5 539.8 L1098.0 540.9 L1099.5 542.0 L1101.0 543.5 L1102.5 544.7 L1104.0 544.4 L1105.5 544.2 L1107.0 545.3 L1108.5 544.4 L1110.0 545.3 L1111.5 546.0 L1113.0 549.6 L1114.5 547.3 L1116.0 544.7 L1117.5 543.9 L1119.0 544.1 L1120.5 543.1 L1122.0 544.2 L1123.5 545.0 L1125.0 547.1 L1126.5 545.3 L1128.0 544.3 L1129.5 543.5 L1131.0 543.8 L1132.5 545.2 L1134.0 545.4 L1135.5 546.6 L1137.0 544.8 L1138.5 546.2 L1140.0 545.6 L1141.5 544.4 L1143.0 541.4 L1144.5 541.9 L1146.0 543.9 L1147.5 543.9 L1149.0 542.0 L1150.5 540.6 L1152.0 538.2 L1153.5 536.7 L1155.0 536.0 L1156.5 536.5 L1158.0 535.5 L1159.5 533.4 L1161.0 533.2 L1162.5 534.3 L1164.0 534.6 L1165.5 534.9 L1167.0 538.3 L1168.5 537.7 L1170.0 538.4 L1171.5 540.7 L1173.0 541.4 L1174.5 541.5 L1176.0 542.4 L1177.5 542.3 L1179.0 543.4 L1180.5 543.6 L1182.0 548.1 L1183.5 546.7 L1185.0 549.3 L1186.5 548.8 L1188.0 549.0 L1189.5 551.1 L1191.0 552.2 L1192.5 553.7 L1194.0 555.3 L1195.5 554.5 L1197.0 554.9 L1198.5 554.5 L1200.0 556.0 L1201.5 556.3 L1203.0 555.7 L1204.5 556.8 L1206.0 557.2 L1207.5 558.2 L1209.0 558.6 L1210.5 557.7 L1212.0 557.7 L1213.5 559.4 L1215.0 556.9 L1216.5 558.8 L1218.0 561.1 L1219.5 556.6 L1221.0 558.7 L1222.5 560.5 L1224.0 559.2 L1225.5 562.9 L1227.0 558.9 L1228.5 562.9 L1230.0 564.1 L1231.5 562.6 L1233.0 561.4 L1234.5 561.7 L1236.0 560.6 L1237.5 561.4 L1239.0 559.2 L1240.5 560.4 L1242.0 562.0 L1243.5 559.5 L1245.0 560.0 L1246.5 560.9 L1248.0 560.1 L1249.5 562.9 L1251.0 561.8 L1252.5 560.0 L1254.0 561.5 L1255.5 560.9 L1257.0 560.6 L1258.5 561.2 L1260.0 561.0 L1261.5 562.6 L1263.0 561.3 L1264.5 562.8 L1266.0 562.4 L1267.5 563.4 L1269.0 562.3 L1270.5 561.6 L1272.0 561.5 L1273.5 564.1 L1275.0 565.3 L1276.5 566.7 L1278.0 565.8 L1279.5 564.2 L1281.0 563.6 L1282.5 564.1 L1284.0 564.0 L1285.5 566.3 L1287.0 566.0 L1288.5 563.4 L1290.0 564.0 L1291.5 566.5 L1293.0 565.8 L1294.5 564.8 L1296.0 565.6 L1297.5 563.5 L1299.0 562.9 L1300.5 561.5 L1302.0 560.2 L1303.5 562.2 L1305.0 559.9 L1306.5 559.6 L1308.0 559.2 L1309.5 560.3 L1311.0 559.8 L1312.5 558.8 L1314.0 557.1 L1315.5 558.3 L1317.0 557.4 L1318.5 559.2 L1320.0 559.6 L1321.5 559.4 L1323.0 561.4 L1324.5 559.8 L1326.0 559.3 L1327.5 558.1 L1329.0 557.7 L1330.5 558.9 L1332.0 558.7 L1333.5 556.2 L1335.0 558.4 L1336.5 558.3 L1338.0 558.7 L1339.5 557.6 L1341.0 554.7 L1342.5 554.4 L1344.0 556.8 L1345.5 554.1 L1347.0 550.7 L1348.5 550.8 L1350.0 548.7 L1351.5 545.3 L1353.0 542.9 L1354.5 542.0 L1356.0 542.0 L1357.5 539.8 L1359.0 537.6 L1360.5 536.9 L1362.0 535.5 L1363.5 531.5 L1365.0 531.6 L1366.5 530.7 L1368.0 529.2 L1369.5 529.4 L1371.0 529.3 L1372.5 528.0 L1374.0 526.1 L1375.5 527.4 L1377.0 529.3 L1378.5 525.8 L1380.0 524.7 L1381.5 527.5 L1383.0 529.4 L1384.5 529.7 L1386.0 529.0 L1387.5 531.7 L1389.0 531.1 L1390.5 531.2 L1392.0 532.9 L1393.5 534.3 L1395.0 536.6 L1396.5 538.0 L1398.0 538.6 L1399.5 540.1 L1401.0 540.3 L1402.5 541.3 L1404.0 539.8 L1405.5 540.5 L1407.0 543.2 L1408.5 542.4 L1410.0 544.4 L1411.5 545.6 L1413.0 546.0 L1414.5 547.3 L1416.0 549.1 L1417.5 546.4 L1419.0 550.6 L1420.5 553.4 L1422.0 551.7 L1423.5 552.0 L1425.0 554.3 L1426.5 555.9 L1428.0 553.4 L1429.5 554.7 L1431.0 554.9 L1432.5 556.5 L1434.0 556.6 L1435.5 557.0 L1437.0 556.5 L1438.5 557.0 L1440.0 556.5 L1441.5 557.2 L1443.0 557.8 L1444.5 557.5 L1446.0 556.9 L1447.5 559.2 L1449.0 557.5 L1450.5 556.0 L1452.0 558.6 L1453.5 557.8 L1455.0 559.3 L1456.5 559.1 L1458.0 559.7 L1459.5 559.6 L1461.0 558.8 L1462.5 559.9 L1464.0 561.5 L1465.5 557.3 L1467.0 559.8 L1468.5 560.9 L1470.0 559.0 L1471.5 559.6 L1473.0 563.5 L1474.5 562.1 L1476.0 564.2 L1477.5 562.9 L1479.0 562.1 L1480.5 563.1 L1482.0 563.8 L1483.5 564.5 L1485.0 564.0 L1486.5 563.8 L1488.0 564.5 L1489.5 566.1 L1491.0 565.4 L1492.5 563.6 L1494.0 564.4 L1495.5 565.7 L1497.0 564.8 L1498.5 564.9 L1500.0 564.5 L1501.5 565.6 L1503.0 566.7 L1504.5 567.7 L1506.0 567.4 L1507.5 569.4 L1509.0 568.2 L1510.5 571.4 L1512.0 569.8 L1513.5 568.4 L1515.0 566.5 L1516.5 563.8 L1518.0 567.5 L1519.5 569.5 L1521.0 571.3 L1522.5 568.4 L1524.0 571.2 L1525.5 569.7 L1527.0 569.9 L1528.5 566.5 L1530.0 569.1 L1531.5 569.2 L1533.0 570.0 L1534.5 569.2 L1536.0 567.9 L1537.5 570.1 L1539.0 570.5 L1540.5 570.2 L1542.0 571.3 L1543.5 571.6 L1545.0 569.8 L1546.5 567.6 L1548.0 568.4 L1549.5 571.5 L1551.0 571.4 L1552.5 570.5 L1554.0 570.0 L1555.5 570.7 L1557.0 571.1 L1558.5 570.4 L1560.0 571.5 L1561.5 574.6 L1563.0 572.6 L1564.5 570.9 L1566.0 570.4 L1567.5 571.7 L1569.0 573.7 L1570.5 573.5 L1572.0 572.7 L1573.5 573.0 L1575.0 572.5 L1576.5 572.0 L1578.0 575.0 L1579.5 575.1 L1581.0 577.2 L1582.5 573.7 L1584.0 573.7 L1585.5 574.9 L1587.0 573.7 L1588.5 571.5 L1590.0 572.2 L1591.5 573.5 L1593.0 574.3 L1594.5 574.1 L1596.0 575.6 L1597.5 575.4 L1599.0 574.7 L1600.5 574.5 L1602.0 574.8 L1603.5 576.2 L1605.0 577.2 L1606.5 576.6 L1608.0 577.1 L1609.5 576.6 L1611.0 575.5 L1612.5 577.0 L1614.0 579.4 L1615.5 580.3 L1617.0 582.0 L1618.5 581.2"/>
<path stroke="#8C2CB4" d="M40.5 719.5 L42.0 717.9 L43.5 719.1 L45.0 721.0 L46.5 720.5 L48.0 719.5 L49.5 719.2 L51.0 720.0 L52.5 719.0 L54.0 719.6 L55.5 718.9 L57.0 716.1 L58.5 718.6 L60.0 720.0 L61.5 717.2 L63.0 715.5 L64.5 713.4 L66.0 712.5 L67.5 712.9 L69.0 710.1 L70.5 707.6 L72.0 704.2 L73.5 704.8 L75.0 701.9 L76.5 699.7 L78.0 699.2 L79.5 694.8 L81.0 687.2 L82.5 683.1 L84.0 677.6 L85.5 671.3 L87.0 667.6 L88.5 662.6 L90.0 659.7 L91.5 657.6 L93.0 658.2 L94.5 662.0 L96.0 664.4 L97.5 668.8 L99.0 675.6 L100.5 683.8 L102.0 690.5 L103.5 695.4 L105.0 695.5 L106.5 695.6 L108.0 697.1 L109.5 698.3 L111.0 698.0 L112.5 699.5 L114.0 701.0 L115.5 698.1 L117.0 698.0 L118.5 698.9 L120.0 696.1 L121.5 694.8 L123.0 694.1 L124.5 694.0 L126.0 692.5 L127.5 690.9 L129.0 690.5 L130.5 691.4 L132.0 690.0 L133.5 686.8 L135.0 687.3 L136.5 686.6 L138.0 685.8 L139.5 683.2 L141.0 680.9 L142.5 678.7 L144.0 675.7 L145.5 674.6 L147.0 671.9 L148.5 670.7 L150.0 668.6 L151.5 668.0 L153.0 666.7 L154.5 666.0 L156.0 667.7 L157.5 666.9 L159.0 667.1 L160.5 665.2 L162.0 665.7 L163.5 663.8 L165.0 664.9 L166.5 665.6 L168.0 667.5 L169.5 668.0 L171.0 668.6 L172.5 670.7 L174.0 671.1 L175.5 672.5 L177.0 673.6 L178.5 673.6 L180.0 674.2 L181.5 676.6 L183.0 678.4 L184.5 681.2 L186.0 682.8 L187.5 682.8 L189.0 681.3 L190.5 681.1 L192.0 682.9 L193.5 684.8 L195.0 687.9 L196.5 688.1 L198.0 689.3 L199.5 691.4 L201.0 691.2 L202.5 692.9 L204.0 696.4 L205.5 697.1 L207.0 696.8 L208.5 696.8 L210.0 696.2 L211.5 698.1 L213.0 698.6 L214.5 699.4 L216.0 699.7 L217.5 700.5 L219.0 701.1 L220.5 702.8 L222.0 704.5 L223.5 703.9 L225.0 701.9 L226.5 702.8 L228.0 702.9 L229.5 704.6 L231.0 706.8 L232.5 707.4 L234.0 706.3 L235.5 706.4 L237.0 704.7 L238.5 703.5 L240.0 703.1 L241.5 704.8 L243.0 707.0 L244.5 704.6 L246.0 707.3 L247.5 707.9 L249.0 706.2 L250.5 706.4 L252.0 705.5 L253.5 706.2 L255.0 707.3 L256.5 706.7 L258.0 707.3 L259.5 706.8 L261.0 705.5 L262.5 705.3 L264.0 704.9 L265.5 704.5 L267.0 703.0 L268.5 704.3 L270.0 704.3 L271.5 703.0 L273.0 705.4 L274.5 701.8 L276.0 700.9 L277.5 701.7 L279.0 699.1 L280.5 699.2 L282.0 698.3 L283.5 697.9 L285.0 699.0 L286.5 699.4 L288.0 700.0 L289.5 699.2 L291.0 698.6 L292.5 697.5 L294.0 696.7 L295.5 697.7 L297.0 696.0 L298.5 696.0 L300.0 698.8 L301.5 698.8 L303.0 698.2 L304.5 699.0 L306.0 699.3 L307.5 697.4 L309.0 698.5 L310.5 698.7 L312.0 700.0 L313.5 700.2 L315.0 702.6 L316.5 701.6 L318.0 700.0 L319.5 699.9 L321.0 698.8 L322.5 700.7 L324.0 701.7 L325.5 700.5 L327.0 697.9 L328.5 699.3 L330.0 701.0 L331.5 700.9 L333.0 701.0 L334.5 698.3 L336.0 699.9 L337.5 698.4 L339.0 698.8 L340.5 699.1 L342.0 698.6 L343.5 696.8 L345.0 696.5 L346.5 694.1 L348.0 693.6 L349.5 695.3 L351.0 693.8 L352.5 691.3 L354.0 690.9 L355.5 692.2 L357.0 693.0 L358.5 691.5 L360.0 689.1 L361.5 684.6 L363.0 683.9 L364.5 682.4 L366.0 678.7 L367.5 674.9 L369.0 669.7 L370.5 664.4 L372.0 656.0 L373.5 644.7 L375.0 631.9 L376.5 618.4 L378.0 599.5 L379.5 579.2 L381.0 552.3 L382.5 519.7 L384.0 486.1 L385.5 448.7 L387.0 405.0 L388.5 365.8 L390.0 337.3 L391.5 311.3 L393.0 295.0 L394.5 289.7 L396.0 285.4 L397.5 285.2 L399.0 291.0 L400.5 295.7 L402.0 308.9 L403.5 331.6 L405.0 358.3 L406.5 394.7 L408.0 439.7 L409.5 478.5 L411.0 512.0 L412.5 543.5 L414.0 571.5 L415.5 595.7 L417.0 619.9 L418.5 642.2 L420.0 658.0 L421.5 666.4 L423.0 670.6 L424.5 676.1 L426.0 679.3 L427.5 683.4 L429.0 684.9 L430.5 686.8 L432.0 688.2 L433.5 688.6 L435.0 688.8 L436.5 691.2 L438.0 690.0 L439.5 690.5 L441.0 691.6 L442.5 691.8 L444.0 693.5 L445.5 694.8 L447.0 694.3 L448.5 694.7 L450.0 695.0 L451.5 695.5 L453.0 693.1 L454.5 694.7 L456.0 693.5 L457.5 693.6 L459.0 695.4 L460.5 695.4 L462.0 696.8 L463.5 696.4 L465.0 693.0 L466.5 695.9 L468.0 698.3 L469.5 697.4 L471.0 697.4 L472.5 695.4 L474.0 693.0 L475.5 693.4 L477.0 695.5 L478.5 696.3 L480.0 694.1 L481.5 693.9 L483.0 694.2 L484.5 692.3 L486.0 693.8 L487.5 697.4 L489.0 697.4 L490.5 694.8 L492.0 696.1 L493.5 692.4 L495.0 690.5 L496.5 689.1 L498.0 691.4 L499.5 690.7 L501.0 692.6 L502.5 689.6 L504.0 687.9 L505.5 685.2 L507.0 687.3 L508.5 685.3 L510.0 683.3 L511.5 680.2 L513.0 682.1 L514.5 681.1 L516.0 677.9 L517.5 676.9 L519.0 675.5 L520.5 674.3 L522.0 671.8 L523.5 670.8 L525.0 666.6 L526.5 663.2 L528.0 660.0 L529.5 656.5 L531.0 656.5 L532.5 656.9 L534.0 654.2 L535.5 651.2 L537.0 650.4 L538.5 647.6 L540.0 648.3 L541.5 649.1 L543.0 648.3 L544.5 646.4 L546.0 648.2 L547.5 648.8 L549.0 645.8 L550.5 644.8 L552.0 641.1 L553.5 639.5 L555.0 640.8 L556.5 639.1 L558.0 637.9 L559.5 635.8 L561.0 635.6 L562.5 636.1 L564.0 636.1 L565.5 632.9 L567.0 630.9 L568.5 633.9 L570.0 634.2 L571.5 634.5 L573.0 635.2 L574.5 637.8 L576.0 636.9 L577.5 638.2 L579.0 638.3 L580.5 641.8 L582.0 644.8 L583.5 648.5 L585.0 651.5 L586.5 653.6 L588.0 658.1 L589.5 658.5 L591.0 661.5 L592.5 664.3 L594.0 665.6 L595.5 669.4 L597.0 671.8 L598.5 673.1 L600.0 676.1 L601.5 674.4 L603.0 674.5 L604.5 673.1 L606.0 672.8 L607.5 674.5 L609.0 675.6 L610.5 676.7 L612.0 678.0 L613.5 674.5 L615.0 675.3 L616.5 675.5 L618.0 679.0 L619.5 676.9 L621.0 676.0 L622.5 675.8 L624.0 678.2 L625.5 677.4 L627.0 677.4 L628.5 675.3 L630.0 679.0 L631.5 678.5 L633.0 678.6 L634.5 679.1 L636.0 677.4 L637.5 677.1 L639.0 678.0 L640.5 677.8 L642.0 676.8 L643.5 676.7 L645.0 675.8 L646.5 676.7 L648.0 676.6 L649.5 675.6 L651.0 675.9 L652.5 671.9 L654.0 672.2 L655.5 673.3 L657.0 669.9 L658.5 666.9 L660.0 668.2 L661.5 665.4 L663.0 661.2 L664.5 660.2 L666.0 655.5 L667.5 651.2 L669.0 648.3 L670.5 644.0 L672.0 640.6 L673.5 638.1 L675.0 635.0 L676.5 633.7 L678.0 632.2 L679.5 632.0 L681.0 631.1 L682.5 630.2 L684.0 631.3 L685.5 633.8 L687.0 637.2 L688.5 637.0 L690.0 635.4 L691.5 636.1 L693.0 633.6 L694.5 634.0 L696.0 632.0 L697.5 631.2 L699.0 629.8 L700.5 627.9 L702.0 626.5 L703.5 624.1 L705.0 624.3 L706.5 625.3 L708.0 627.5 L709.5 623.4 L711.0 621.1 L712.5 620.3 L714.0 622.0 L715.5 619.5 L717.0 620.3 L718.5 622.1 L720.0 621.4 L721.5 624.9 L723.0 625.0 L724.5 622.6 L726.0 621.7 L727.5 620.5 L729.0 619.4 L730.5 620.4 L732.0 619.7 L733.5 617.7 L735.0 616.2 L736.5 614.2 L738.0 613.0 L739.5 610.4 L741.0 610.6 L742.5 611.2 L744.0 609.5 L745.5 605.8 L747.0 604.5 L748.5 605.2 L750.0 603.6 L751.5 598.5 L753.0 597.2 L754.5 596.7 L756.0 595.5 L757.5 591.7 L759.0 591.1 L760.5 589.3 L762.0 590.2 L763.5 587.1 L765.0 584.3 L766.5 582.7 L768.0 582.5 L769.5 579.8 L771.0 575.7 L772.5 573.6 L774.0 569.3 L775.5 566.2 L777.0 562.4 L778.5 558.9 L780.0 556.2 L781.5 553.2 L783.0 551.7 L784.5 549.2 L786.0 545.2 L787.5 541.7 L789.0 539.8 L790.5 534.3 L792.0 530.8 L793.5 529.4 L795.0 525.7 L796.5 522.0 L798.0 516.7 L799.5 512.9 L801.0 512.0 L802.5 511.5 L804.0 509.1 L805.5 507.9 L807.0 505.9 L808.5 506.7 L810.0 509.3 L811.5 509.2 L813.0 508.8 L814.5 510.3 L816.0 512.9 L817.5 515.9 L819.0 516.9 L820.5 519.8 L822.0 521.7 L823.5 526.1 L825.0 532.1 L826.5 536.5 L828.0 538.3 L829.5 541.6 L831.0 546.5 L832.5 549.1 L834.0 552.5 L835.5 557.2 L837.0 560.7 L838.5 565.0 L840.0 567.8 L841.5 569.5 L843.0 572.5 L844.5 575.3 L846.0 576.4 L847.5 579.7 L849.0 584.3 L850.5 585.6 L852.0 590.8 L853.5 593.6 L855.0 596.0 L856.5 599.9 L858.0 603.2 L859.5 606.6 L861.0 608.4 L862.5 610.9 L864.0 614.3 L865.5 619.5 L867.0 621.4 L868.5 622.0 L870.0 624.8 L871.5 627.3 L873.0 630.8 L874.5 634.1 L876.0 637.8 L877.5 636.0 L879.0 640.3 L880.5 641.6 L882.0 641.7 L883.5 643.3 L885.0 644.7 L886.5 646.7 L888.0 648.5 L889.5 647.7 L891.0 651.4 L892.5 651.7 L894.0 654.6 L895.5 655.0 L897.0 656.7 L898.5 657.4 L900.0 658.3 L901.5 657.8 L903.0 657.7 L904.5 659.7 L906.0 661.4 L907.5 663.0 L909.0 659.0 L910.5 660.9 L912.0 662.8 L913.5 661.0 L915.0 662.5 L916.5 666.2 L918.0 665.5 L919.5 663.7 L921.0 666.4 L922.5 666.8 L924.0 666.4 L925.5 666.1 L927.0 665.6 L928.5 664.6 L930.0 665.5 L931.5 667.5 L933.0 668.1 L934.5 670.3 L936.0 668.0 L937.5 665.4 L939.0 667.8 L940.5 669.2 L942.0 669.4 L943.5 668.6 L945.0 667.4 L946.5 669.8 L948.0 668.1 L949.5 669.0 L951.0 667.8 L952.5 666.9 L954.0 669.2 L955.5 665.3 L957.0 666.5 L958.5 667.5 L960.0 666.9 L961.5 667.6 L963.0 666.5 L964.5 665.6 L966.0 666.9 L967.5 663.7 L969.0 661.9 L970.5 658.6 L972.0 656.2 L973.5 654.7 L975.0 651.8 L976.5 647.6 L978.0 642.3 L979.5 638.5 L981.0 631.7 L982.5 626.7 L984.0 620.4 L985.5 613.9 L987.0 608.6 L988.5 601.4 L990.0 594.8 L991.5 593.5 L993.0 593.0 L994.5 594.8 L996.0 597.3 L997.5 602.1 L999.0 606.7 L1000.5 614.0 L1002.0 622.3 L1003.5 627.6 L1005.0 633.5 L1006.5 637.8 L1008.0 639.7 L1009.5 645.6 L1011.0 651.4 L1012.5 655.5 L1014.0 657.7 L1015.5 662.2 L1017.0 664.9 L1018.5 665.1 L1020.0 668.5 L1021.5 670.3 L1023.0 669.4 L1024.5 668.6 L1026.0 671.4 L1027.5 669.6 L1029.0 669.0 L1030.5 668.8 L1032.0 668.1 L1033.5 669.2 L1035.0 668.8 L1036.5 667.7 L1038.0 663.8 L1039.5 659.2 L1041.0 659.6 L1042.5 661.0 L1044.0 661.2 L1045.5 664.9 L1047.0 663.2 L1048.5 664.3 L1050.0 667.4 L1051.5 668.8 L1053.0 669.2 L1054.5 670.8 L1056.0 673.3 L1057.5 675.5 L1059.0 677.0 L1060.5 677.4 L1062.0 679.1 L1063.5 680.3 L1065.0 678.6 L1066.5 674.2 L1068.0 676.2 L1069.5 676.8 L1071.0 677.5 L1072.5 678.5 L1074.0 679.7 L1075.5 679.4 L1077.0 677.9 L1078.5 678.0 L1080.0 678.8 L1081.5 675.7 L1083.0 675.7 L1084.5 676.1 L1086.0 673.6 L1087.5 670.3 L1089.0 671.6 L1090.5 670.6 L1092.0 670.4 L1093.5 671.0 L1095.0 670.2 L1096.5 669.7 L1098.0 672.1 L1099.5 673.2 L1101.0 673.2 L1102.5 674.4 L1104.0 675.4 L1105.5 675.8 L1107.0 676.3 L1108.5 677.8 L1110.0 677.5 L1111.5 678.7 L1113.0 682.2 L1114.5 681.1 L1116.0 680.7 L1117.5 681.0 L1119.0 680.6 L1120.5 680.1 L1122.0 679.6 L1123.5 678.6 L1125.0 679.6 L1126.5 678.4 L1128.0 678.6 L1129.5 675.4 L1131.0 675.9 L1132.5 677.0 L1134.0 674.5 L1135.5 672.4 L1137.0 671.0 L1138.5 667.8 L1140.0 665.3 L1141.5 660.6 L1143.0 658.4 L1144.5 655.6 L1146.0 653.7 L1147.5 651.4 L1149.0 647.4 L1150.5 646.3 L1152.0 641.3 L1153.5 637.0 L1155.0 635.2 L1156.5 639.0 L1158.0 637.7 L1159.5 637.0 L1161.0 637.3 L1162.5 638.3 L1164.0 641.7 L1165.5 642.3 L1167.0 644.3 L1168.5 643.1 L1170.0 641.9 L1171.5 646.5 L1173.0 646.9 L1174.5 648.8 L1176.0 651.7 L1177.5 652.0 L1179.0 654.5 L1180.5 655.4 L1182.0 655.9 L1183.5 658.5 L1185.0 659.2 L1186.5 661.6 L1188.0 661.8 L1189.5 659.2 L1191.0 657.0 L1192.5 654.6 L1194.0 652.5 L1195.5 653.1 L1197.0 652.6 L1198.5 652.9 L1200.0 651.9 L1201.5 653.4 L1203.0 654.3 L1204.5 653.0 L1206.0 653.0 L1207.5 652.3 L1209.0 652.4 L1210.5 649.8 L1212.0 649.3 L1213.5 649.0 L1215.0 646.3 L1216.5 643.2 L1218.0 645.0 L1219.5 645.6 L1221.0 643.6 L1222.5 644.3 L1224.0 643.3 L1225.5 642.2 L1227.0 640.6 L1228.5 639.6 L1230.0 639.4 L1231.5 640.2 L1233.0 640.8 L1234.5 640.9 L1236.0 640.1 L1237.5 640.7 L1239.0 640.9 L1240.5 638.9 L1242.0 639.6 L1243.5 640.4 L1245.0 640.8 L1246.5 640.9 L1248.0 641.0 L1249.5 641.1 L1251.0 643.3 L1252.5 643.7 L1254.0 642.8 L1255.5 645.7 L1257.0 646.6 L1258.5 650.4 L1260.0 649.5 L1261.5 650.6 L1263.0 652.1 L1264.5 653.4 L1266.0 655.3 L1267.5 658.4 L1269.0 658.5 L1270.5 659.9 L1272.0 660.6 L1273.5 659.7 L1275.0 662.4 L1276.5 662.6 L1278.0 662.6 L1279.5 661.3 L1281.0 663.8 L1282.5 663.3 L1284.0 662.7 L1285.5 665.8 L1287.0 663.4 L1288.5 661.6 L1290.0 661.6 L1291.5 662.1 L1293.0 662.2 L1294.5 661.0 L1296.0 661.3 L1297.5 661.2 L1299.0 658.0 L1300.5 658.0 L1302.0 657.8 L1303.5 659.2 L1305.0 661.3 L1306.5 659.8 L1308.0 657.1 L1309.5 657.8 L1311.0 658.9 L1312.5 655.9 L1314.0 654.8 L1315.5 652.6 L1317.0 648.9 L1318.5 649.5 L1320.0 647.3 L1321.5 644.4 L1323.0 640.0 L1324.5 637.0 L1326.0 634.2 L1327.5 631.6 L1329.0 627.8 L1330.5 624.5 L1332.0 622.1 L1333.5 617.8 L1335.0 611.7 L1336.5 608.1 L1338.0 606.4 L1339.5 601.4 L1341.0 598.5 L1342.5 594.0 L1344.0 587.3 L1345.5 582.0 L1347.0 576.6 L1348.5 569.8 L1350.0 563.4 L1351.5 557.8 L1353.0 551.7 L1354.5 543.3 L1356.0 535.0 L1357.5 524.9 L1359.0 512.9 L1360.5 501.4 L1362.0 486.2 L1363.5 472.0 L1365.0 458.1 L1366.5 444.9 L1368.0 435.8 L1369.5 427.0 L1371.0 418.7 L1372.5 418.1 L1374.0 423.0 L1375.5 433.2 L1377.0 443.0 L1378.5 455.7 L1380.0 471.3 L1381.5 486.8 L1383.0 501.1 L1384.5 513.2 L1386.0 523.9 L1387.5 536.6 L1389.0 548.3 L1390.5 559.8 L1392.0 573.6 L1393.5 585.1 L1395.0 595.1 L1396.5 602.5 L1398.0 609.9 L1399.5 616.6 L1401.0 621.8 L1402.5 626.8 L1404.0 630.5 L1405.5 637.9 L1407.0 641.1 L1408.5 644.6 L1410.0 650.0 L1411.5 654.8 L1413.0 659.9 L1414.5 662.5 L1416.0 666.2 L1417.5 669.0 L1419.0 674.4 L1420.5 676.2 L1422.0 679.0 L1423.5 678.7 L1425.0 681.8 L1426.5 683.2 L1428.0 686.3 L1429.5 687.6 L1431.0 685.5 L1432.5 686.2 L1434.0 686.5 L1435.5 687.0 L1437.0 688.4 L1438.5 688.5 L1440.0 688.7 L1441.5 691.0 L1443.0 691.5 L1444.5 689.2 L1446.0 689.4 L1447.5 690.1 L1449.0 689.2 L1450.5 688.7 L1452.0 690.4 L1453.5 690.5 L1455.0 689.7 L1456.5 688.9 L1458.0 690.8 L1459.5 690.3 L1461.0 687.2 L1462.5 686.8 L1464.0 687.6 L1465.5 685.7 L1467.0 686.1 L1468.5 685.6 L1470.0 684.5 L1471.5 684.4 L1473.0 682.9 L1474.5 683.4 L1476.0 682.5 L1477.5 687.4 L1479.0 687.1 L1480.5 686.2 L1482.0 685.0 L1483.5 685.6 L1485.0 685.6 L1486.5 685.1 L1488.0 683.7 L1489.5 681.0 L1491.0 681.3 L1492.5 679.6 L1494.0 677.7 L1495.5 677.8 L1497.0 680.4 L1498.5 681.5 L1500.0 680.1 L1501.5 684.5 L1503.0 685.4 L1504.5 684.0 L1506.0 685.3 L1507.5 687.5 L1509.0 690.7 L1510.5 690.9 L1512.0 690.8 L1513.5 692.7 L1515.0 691.7 L1516.5 695.2 L1518.0 697.6 L1519.5 697.4 L1521.0 698.6 L1522.5 699.3 L1524.0 699.7 L1525.5 698.8 L1527.0 697.4 L1528.5 697.6 L1530.0 697.8 L1531.5 699.0 L1533.0 698.6 L1534.5 695.9 L1536.0 693.3 L1537.5 691.9 L1539.0 692.0 L1540.5 692.6 L1542.0 690.3 L1543.5 688.5 L1545.0 687.1 L1546.5 688.9 L1548.0 688.8 L1549.5 688.8 L1551.0 689.6 L1552.5 691.6 L1554.0 690.6 L1555.5 693.0 L1557.0 692.8 L1558.5 691.9 L1560.0 693.6 L1561.5 693.9 L1563.0 694.5 L1564.5 695.7 L1566.0 696.6 L1567.5 699.4 L1569.0 700.9 L1570.5 702.7 L1572.0 703.7 L1573.5 700.9 L1575.0 704.7 L1576.5 703.4 L1578.0 705.1 L1579.5 704.7 L1581.0 705.9 L1582.5 706.6 L1584.0 703.6 L1585.5 704.7 L1587.0 704.7 L1588.5 703.0 L1590.0 705.3 L1591.5 705.0 L1593.0 703.6 L1594.5 703.4 L1596.0 706.9 L1597.5 702.5 L1599.0 698.9 L1600.5 699.4 L1602.0 699.8 L1603.5 699.4 L1605.0 699.3 L1606.5 697.6 L1608.0 699.2 L1609.5 698.4 L1611.0 697.8 L1612.5 699.1 L1614.0 701.0 L1615.5 703.5 L1617.0 704.8 L1618.5 704.9"/>
</g><g clip-path="url(#cb)">
<path stroke="#EC5C02" d="M40.5 1204.1 L42.0 1203.8 L43.5 1204.1 L45.0 1204.4 L46.5 1202.2 L48.0 1203.6 L49.5 1203.8 L51.0 1202.2 L52.5 1201.0 L54.0 1201.1 L55.5 1203.1 L57.0 1203.0 L58.5 1200.5 L60.0 1199.8 L61.5 1202.0 L63.0 1199.6 L64.5 1200.4 L66.0 1199.0 L67.5 1197.4 L69.0 1199.0 L70.5 1199.3 L72.0 1201.2 L73.5 1201.2 L75.0 1198.3 L76.5 1198.4 L78.0 1198.5 L79.5 1196.2 L81.0 1195.7 L82.5 1197.8 L84.0 1195.8 L85.5 1195.2 L87.0 1194.9 L88.5 1194.0 L90.0 1193.2 L91.5 1194.5 L93.0 1194.8 L94.5 1192.0 L96.0 1189.8 L97.5 1190.3 L99.0 1188.4 L100.5 1188.9 L102.0 1191.3 L103.5 1192.0 L105.0 1188.9 L106.5 1186.8 L108.0 1187.2 L109.5 1183.5 L111.0 1184.2 L112.5 1185.8 L114.0 1183.5 L115.5 1179.2 L117.0 1177.3 L118.5 1178.2 L120.0 1175.9 L121.5 1173.6 L123.0 1172.3 L124.5 1169.3 L126.0 1166.3 L127.5 1166.1 L129.0 1162.4 L130.5 1158.6 L132.0 1155.4 L133.5 1153.4 L135.0 1149.2 L136.5 1146.2 L138.0 1141.8 L139.5 1138.1 L141.0 1132.6 L142.5 1127.0 L144.0 1121.0 L145.5 1117.1 L147.0 1115.5 L148.5 1113.8 L150.0 1106.4 L151.5 1102.9 L153.0 1102.7 L154.5 1102.4 L156.0 1103.8 L157.5 1107.1 L159.0 1109.5 L160.5 1114.4 L162.0 1120.6 L163.5 1126.1 L165.0 1130.0 L166.5 1134.6 L168.0 1141.5 L169.5 1148.8 L171.0 1155.0 L172.5 1159.5 L174.0 1164.5 L175.5 1168.4 L177.0 1169.6 L178.5 1171.5 L180.0 1175.9 L181.5 1178.1 L183.0 1180.5 L184.5 1181.1 L186.0 1181.3 L187.5 1182.7 L189.0 1183.5 L190.5 1184.3 L192.0 1186.1 L193.5 1187.7 L195.0 1190.1 L196.5 1189.0 L198.0 1190.4 L199.5 1191.2 L201.0 1194.1 L202.5 1193.9 L204.0 1193.8 L205.5 1195.6 L207.0 1195.7 L208.5 1196.1 L210.0 1198.9 L211.5 1199.3 L213.0 1201.0 L214.5 1200.5 L216.0 1200.1 L217.5 1199.2 L219.0 1198.5 L220.5 1201.1 L222.0 1201.6 L223.5 1202.2 L225.0 1201.8 L226.5 1201.0 L228.0 1201.1 L229.5 1203.7 L231.0 1204.5 L232.5 1202.9 L234.0 1203.9 L235.5 1205.4 L237.0 1203.3 L238.5 1203.4 L240.0 1202.9 L241.5 1205.7 L243.0 1205.2 L244.5 1203.4 L246.0 1201.6 L247.5 1203.3 L249.0 1204.5 L250.5 1203.3 L252.0 1202.5 L253.5 1202.6 L255.0 1200.6 L256.5 1201.3 L258.0 1201.5 L259.5 1199.7 L261.0 1198.7 L262.5 1199.6 L264.0 1198.7 L265.5 1197.6 L267.0 1197.2 L268.5 1195.5 L270.0 1192.5 L271.5 1190.9 L273.0 1189.1 L274.5 1185.6 L276.0 1180.2 L277.5 1172.5 L279.0 1164.7 L280.5 1153.7 L282.0 1141.2 L283.5 1126.8 L285.0 1111.3 L286.5 1095.9 L288.0 1077.5 L289.5 1063.4 L291.0 1053.8 L292.5 1046.6 L294.0 1043.1 L295.5 1040.3 L297.0 1036.4 L298.5 1036.3 L300.0 1038.7 L301.5 1041.4 L303.0 1048.6 L304.5 1056.7 L306.0 1065.9 L307.5 1074.6 L309.0 1083.8 L310.5 1090.9 L312.0 1098.9 L313.5 1109.1 L315.0 1117.4 L316.5 1125.9 L318.0 1133.7 L319.5 1142.7 L321.0 1148.9 L322.5 1154.7 L324.0 1158.2 L325.5 1160.6 L327.0 1162.0 L328.5 1163.7 L330.0 1166.6 L331.5 1169.0 L333.0 1171.7 L334.5 1170.9 L336.0 1171.7 L337.5 1173.1 L339.0 1176.1 L340.5 1175.0 L342.0 1177.8 L343.5 1179.6 L345.0 1179.1 L346.5 1179.5 L348.0 1177.0 L349.5 1178.6 L351.0 1178.3 L352.5 1180.4 L354.0 1180.8 L355.5 1180.4 L357.0 1182.3 L358.5 1182.1 L360.0 1180.9 L361.5 1180.4 L363.0 1179.7 L364.5 1181.9 L366.0 1184.5 L367.5 1181.7 L369.0 1179.1 L370.5 1174.5 L372.0 1170.9 L373.5 1165.3 L375.0 1157.8 L376.5 1152.0 L378.0 1150.1 L379.5 1150.8 L381.0 1151.5 L382.5 1156.3 L384.0 1161.2 L385.5 1169.3 L387.0 1177.9 L388.5 1183.1 L390.0 1186.2 L391.5 1188.8 L393.0 1190.3 L394.5 1189.7 L396.0 1191.6 L397.5 1190.9 L399.0 1188.4 L400.5 1190.8 L402.0 1191.1 L403.5 1191.1 L405.0 1192.8 L406.5 1191.7 L408.0 1193.1 L409.5 1193.8 L411.0 1192.3 L412.5 1190.2 L414.0 1191.0 L415.5 1192.7 L417.0 1192.0 L418.5 1191.3 L420.0 1192.2 L421.5 1193.2 L423.0 1193.2 L424.5 1193.4 L426.0 1192.0 L427.5 1192.1 L429.0 1192.5 L430.5 1192.6 L432.0 1190.0 L433.5 1192.1 L435.0 1192.3 L436.5 1195.5 L438.0 1196.7 L439.5 1196.3 L441.0 1195.0 L442.5 1193.9 L444.0 1194.8 L445.5 1193.6 L447.0 1193.9 L448.5 1192.3 L450.0 1192.5 L451.5 1194.5 L453.0 1195.6 L454.5 1194.1 L456.0 1196.5 L457.5 1196.4 L459.0 1191.5 L460.5 1191.5 L462.0 1190.0 L463.5 1190.5 L465.0 1190.1 L466.5 1190.4 L468.0 1191.8 L469.5 1191.4 L471.0 1189.9 L472.5 1189.4 L474.0 1189.4 L475.5 1189.1 L477.0 1189.4 L478.5 1188.6 L480.0 1188.4 L481.5 1186.3 L483.0 1188.2 L484.5 1189.1 L486.0 1186.5 L487.5 1184.3 L489.0 1186.6 L490.5 1184.0 L492.0 1180.9 L493.5 1184.0 L495.0 1185.4 L496.5 1185.4 L498.0 1186.2 L499.5 1184.8 L501.0 1182.5 L502.5 1179.0 L504.0 1178.3 L505.5 1179.3 L507.0 1178.9 L508.5 1176.2 L510.0 1175.6 L511.5 1175.7 L513.0 1172.1 L514.5 1171.8 L516.0 1174.1 L517.5 1175.5 L519.0 1174.9 L520.5 1174.2 L522.0 1177.0 L523.5 1177.2 L525.0 1179.3 L526.5 1179.4 L528.0 1180.0 L529.5 1180.0 L531.0 1178.9 L532.5 1180.2 L534.0 1181.5 L535.5 1180.9 L537.0 1181.4 L538.5 1179.8 L540.0 1181.1 L541.5 1180.6 L543.0 1179.5 L544.5 1180.0 L546.0 1179.6 L547.5 1179.5 L549.0 1179.8 L550.5 1180.7 L552.0 1178.5 L553.5 1177.2 L555.0 1174.9 L556.5 1176.4 L558.0 1177.9 L559.5 1177.2 L561.0 1175.6 L562.5 1173.3 L564.0 1172.4 L565.5 1172.8 L567.0 1171.3 L568.5 1171.1 L570.0 1173.4 L571.5 1172.2 L573.0 1174.8 L574.5 1171.4 L576.0 1172.7 L577.5 1171.2 L579.0 1172.2 L580.5 1171.3 L582.0 1172.8 L583.5 1173.0 L585.0 1173.2 L586.5 1174.7 L588.0 1176.1 L589.5 1174.2 L591.0 1175.6 L592.5 1174.8 L594.0 1174.9 L595.5 1176.7 L597.0 1172.1 L598.5 1172.2 L600.0 1171.5 L601.5 1172.9 L603.0 1174.7 L604.5 1179.2 L606.0 1176.1 L607.5 1176.8 L609.0 1176.3 L610.5 1174.5 L612.0 1175.7 L613.5 1177.1 L615.0 1175.5 L616.5 1175.4 L618.0 1175.2 L619.5 1172.8 L621.0 1173.4 L622.5 1175.6 L624.0 1175.8 L625.5 1174.2 L627.0 1174.7 L628.5 1175.2 L630.0 1175.7 L631.5 1176.9 L633.0 1176.1 L634.5 1176.1 L636.0 1174.0 L637.5 1174.3 L639.0 1176.0 L640.5 1174.6 L642.0 1176.4 L643.5 1176.1 L645.0 1176.2 L646.5 1178.1 L648.0 1177.4 L649.5 1177.5 L651.0 1177.9 L652.5 1179.1 L654.0 1181.2 L655.5 1175.6 L657.0 1176.4 L658.5 1176.3 L660.0 1176.2 L661.5 1173.5 L663.0 1171.3 L664.5 1174.3 L666.0 1171.7 L667.5 1171.7 L669.0 1169.9 L670.5 1169.8 L672.0 1170.7 L673.5 1172.0 L675.0 1171.4 L676.5 1169.9 L678.0 1170.0 L679.5 1168.7 L681.0 1168.1 L682.5 1167.0 L684.0 1165.9 L685.5 1162.7 L687.0 1160.4 L688.5 1157.5 L690.0 1154.0 L691.5 1148.9 L693.0 1144.9 L694.5 1138.3 L696.0 1135.7 L697.5 1133.3 L699.0 1133.7 L700.5 1132.7 L702.0 1138.6 L703.5 1139.4 L705.0 1141.5 L706.5 1147.0 L708.0 1152.7 L709.5 1152.9 L711.0 1152.1 L712.5 1154.6 L714.0 1157.5 L715.5 1156.2 L717.0 1158.2 L718.5 1159.3 L720.0 1161.3 L721.5 1159.3 L723.0 1159.7 L724.5 1157.2 L726.0 1156.0 L727.5 1157.1 L729.0 1155.4 L730.5 1152.4 L732.0 1153.4 L733.5 1152.5 L735.0 1149.5 L736.5 1148.7 L738.0 1146.8 L739.5 1143.9 L741.0 1141.5 L742.5 1139.2 L744.0 1136.8 L745.5 1133.1 L747.0 1130.6 L748.5 1126.4 L750.0 1123.1 L751.5 1117.0 L753.0 1110.1 L754.5 1105.3 L756.0 1100.6 L757.5 1094.2 L759.0 1087.1 L760.5 1084.4 L762.0 1078.6 L763.5 1071.4 L765.0 1063.6 L766.5 1056.1 L768.0 1047.7 L769.5 1036.2 L771.0 1022.9 L772.5 1009.1 L774.0 994.1 L775.5 979.4 L777.0 965.4 L778.5 949.5 L780.0 932.1 L781.5 911.0 L783.0 886.4 L784.5 857.9 L786.0 821.3 L787.5 766.2 L789.0 725.9 L790.5 694.7 L792.0 667.3 L793.5 649.0 L795.0 643.8 L796.5 656.9 L798.0 682.9 L799.5 714.8 L801.0 747.4 L802.5 776.0 L804.0 803.2 L805.5 829.0 L807.0 853.4 L808.5 873.6 L810.0 892.1 L811.5 913.1 L813.0 933.3 L814.5 950.9 L816.0 966.1 L817.5 978.9 L819.0 992.2 L820.5 1006.4 L822.0 1018.0 L823.5 1028.9 L825.0 1039.4 L826.5 1050.0 L828.0 1056.6 L829.5 1063.2 L831.0 1066.2 L832.5 1071.5 L834.0 1075.5 L835.5 1077.0 L837.0 1082.0 L838.5 1085.7 L840.0 1088.7 L841.5 1091.5 L843.0 1092.1 L844.5 1094.3 L846.0 1098.2 L847.5 1100.2 L849.0 1100.3 L850.5 1101.9 L852.0 1107.6 L853.5 1108.7 L855.0 1109.2 L856.5 1109.3 L858.0 1111.7 L859.5 1114.5 L861.0 1116.0 L862.5 1120.1 L864.0 1121.2 L865.5 1122.6 L867.0 1122.7 L868.5 1124.6 L870.0 1126.9 L871.5 1129.8 L873.0 1131.2 L874.5 1133.2 L876.0 1135.6 L877.5 1138.3 L879.0 1141.3 L880.5 1141.8 L882.0 1142.8 L883.5 1146.3 L885.0 1149.2 L886.5 1149.4 L888.0 1151.3 L889.5 1152.8 L891.0 1155.1 L892.5 1156.3 L894.0 1156.5 L895.5 1159.0 L897.0 1161.9 L898.5 1163.0 L900.0 1163.8 L901.5 1164.1 L903.0 1163.6 L904.5 1164.4 L906.0 1166.2 L907.5 1164.8 L909.0 1166.1 L910.5 1164.8 L912.0 1166.7 L913.5 1167.0 L915.0 1167.1 L916.5 1169.3 L918.0 1168.3 L919.5 1169.0 L921.0 1170.1 L922.5 1170.3 L924.0 1173.0 L925.5 1172.1 L927.0 1172.4 L928.5 1171.3 L930.0 1172.3 L931.5 1172.8 L933.0 1173.4 L934.5 1173.4 L936.0 1175.1 L937.5 1176.9 L939.0 1175.8 L940.5 1175.7 L942.0 1176.4 L943.5 1180.2 L945.0 1179.9 L946.5 1178.5 L948.0 1178.2 L949.5 1176.9 L951.0 1177.6 L952.5 1178.4 L954.0 1178.4 L955.5 1177.4 L957.0 1177.5 L958.5 1179.5 L960.0 1179.2 L961.5 1176.5 L963.0 1178.8 L964.5 1180.5 L966.0 1178.5 L967.5 1179.3 L969.0 1178.0 L970.5 1179.7 L972.0 1177.8 L973.5 1177.8 L975.0 1179.7 L976.5 1182.6 L978.0 1179.0 L979.5 1177.6 L981.0 1179.9 L982.5 1180.4 L984.0 1181.3 L985.5 1177.7 L987.0 1176.4 L988.5 1177.7 L990.0 1177.9 L991.5 1177.6 L993.0 1177.2 L994.5 1174.1 L996.0 1175.0 L997.5 1176.2 L999.0 1177.1 L1000.5 1177.4 L1002.0 1175.8 L1003.5 1175.6 L1005.0 1178.0 L1006.5 1178.6 L1008.0 1180.7 L1009.5 1178.5 L1011.0 1179.0 L1012.5 1176.1 L1014.0 1176.6 L1015.5 1177.1 L1017.0 1177.4 L1018.5 1177.3 L1020.0 1177.9 L1021.5 1179.2 L1023.0 1180.0 L1024.5 1181.7 L1026.0 1181.3 L1027.5 1182.0 L1029.0 1184.0 L1030.5 1183.6 L1032.0 1184.0 L1033.5 1184.3 L1035.0 1185.1 L1036.5 1186.3 L1038.0 1186.2 L1039.5 1188.9 L1041.0 1190.2 L1042.5 1189.9 L1044.0 1187.9 L1045.5 1186.7 L1047.0 1188.0 L1048.5 1189.5 L1050.0 1190.5 L1051.5 1189.9 L1053.0 1189.8 L1054.5 1191.8 L1056.0 1190.3 L1057.5 1192.5 L1059.0 1191.8 L1060.5 1189.6 L1062.0 1190.4 L1063.5 1189.6 L1065.0 1188.4 L1066.5 1186.9 L1068.0 1187.1 L1069.5 1189.3 L1071.0 1188.7 L1072.5 1189.0 L1074.0 1187.4 L1075.5 1188.0 L1077.0 1188.3 L1078.5 1186.7 L1080.0 1187.1 L1081.5 1189.8 L1083.0 1189.5 L1084.5 1188.3 L1086.0 1189.0 L1087.5 1189.9 L1089.0 1190.5 L1090.5 1187.6 L1092.0 1188.3 L1093.5 1189.7 L1095.0 1187.5 L1096.5 1187.2 L1098.0 1183.1 L1099.5 1185.8 L1101.0 1183.7 L1102.5 1181.2 L1104.0 1183.3 L1105.5 1184.0 L1107.0 1184.1 L1108.5 1183.5 L1110.0 1181.8 L1111.5 1180.9 L1113.0 1181.4 L1114.5 1182.6 L1116.0 1183.3 L1117.5 1182.6 L1119.0 1184.1 L1120.5 1185.7 L1122.0 1186.3 L1123.5 1189.3 L1125.0 1189.3 L1126.5 1185.8 L1128.0 1186.1 L1129.5 1186.1 L1131.0 1187.1 L1132.5 1189.4 L1134.0 1188.1 L1135.5 1188.3 L1137.0 1190.4 L1138.5 1192.2 L1140.0 1191.1 L1141.5 1191.6 L1143.0 1193.4 L1144.5 1193.8 L1146.0 1193.9 L1147.5 1193.9 L1149.0 1191.7 L1150.5 1192.7 L1152.0 1192.2 L1153.5 1193.9 L1155.0 1193.5 L1156.5 1191.4 L1158.0 1193.1 L1159.5 1191.0 L1161.0 1192.5 L1162.5 1191.4 L1164.0 1189.7 L1165.5 1188.9 L1167.0 1190.0 L1168.5 1190.3 L1170.0 1190.0 L1171.5 1190.8 L1173.0 1189.2 L1174.5 1190.5 L1176.0 1190.5 L1177.5 1188.5 L1179.0 1190.6 L1180.5 1188.9 L1182.0 1188.0 L1183.5 1190.5 L1185.0 1192.2 L1186.5 1193.7 L1188.0 1193.2 L1189.5 1195.8 L1191.0 1196.4 L1192.5 1196.0 L1194.0 1196.1 L1195.5 1194.8 L1197.0 1194.0 L1198.5 1195.3 L1200.0 1195.3 L1201.5 1195.0 L1203.0 1193.8 L1204.5 1192.3 L1206.0 1194.7 L1207.5 1194.5 L1209.0 1192.6 L1210.5 1194.4 L1212.0 1194.8 L1213.5 1194.2 L1215.0 1195.2 L1216.5 1194.6 L1218.0 1191.5 L1219.5 1192.1 L1221.0 1193.2 L1222.5 1193.3 L1224.0 1192.4 L1225.5 1188.5 L1227.0 1189.5 L1228.5 1190.7 L1230.0 1191.3 L1231.5 1190.2 L1233.0 1186.4 L1234.5 1184.8 L1236.0 1183.1 L1237.5 1183.1 L1239.0 1179.9 L1240.5 1180.8 L1242.0 1179.7 L1243.5 1177.0 L1245.0 1173.0 L1246.5 1173.1 L1248.0 1173.7 L1249.5 1170.6 L1251.0 1170.3 L1252.5 1169.2 L1254.0 1168.9 L1255.5 1166.7 L1257.0 1164.6 L1258.5 1161.9 L1260.0 1160.9 L1261.5 1159.8 L1263.0 1159.8 L1264.5 1158.4 L1266.0 1158.2 L1267.5 1155.4 L1269.0 1158.1 L1270.5 1158.1 L1272.0 1159.6 L1273.5 1159.8 L1275.0 1161.7 L1276.5 1163.1 L1278.0 1162.1 L1279.5 1163.5 L1281.0 1164.7 L1282.5 1166.5 L1284.0 1166.8 L1285.5 1169.6 L1287.0 1171.4 L1288.5 1172.4 L1290.0 1174.1 L1291.5 1175.2 L1293.0 1179.7 L1294.5 1181.1 L1296.0 1183.4 L1297.5 1181.7 L1299.0 1182.2 L1300.5 1184.2 L1302.0 1184.0 L1303.5 1187.0 L1305.0 1187.7 L1306.5 1189.3 L1308.0 1191.4 L1309.5 1192.5 L1311.0 1195.6 L1312.5 1194.6 L1314.0 1192.6 L1315.5 1194.8 L1317.0 1193.2 L1318.5 1194.0 L1320.0 1193.0 L1321.5 1193.6 L1323.0 1195.8 L1324.5 1193.2 L1326.0 1191.8 L1327.5 1191.2 L1329.0 1190.8 L1330.5 1191.3 L1332.0 1187.4 L1333.5 1186.2 L1335.0 1187.6 L1336.5 1185.5 L1338.0 1186.3 L1339.5 1187.8 L1341.0 1186.2 L1342.5 1184.9 L1344.0 1184.0 L1345.5 1182.5 L1347.0 1182.0 L1348.5 1181.6 L1350.0 1181.7 L1351.5 1179.6 L1353.0 1176.0 L1354.5 1173.9 L1356.0 1173.3 L1357.5 1168.8 L1359.0 1167.7 L1360.5 1165.8 L1362.0 1163.0 L1363.5 1162.0 L1365.0 1161.9 L1366.5 1159.3 L1368.0 1159.0 L1369.5 1158.9 L1371.0 1158.7 L1372.5 1157.2 L1374.0 1159.3 L1375.5 1158.6 L1377.0 1158.7 L1378.5 1159.7 L1380.0 1160.7 L1381.5 1162.1 L1383.0 1165.9 L1384.5 1166.9 L1386.0 1168.6 L1387.5 1171.3 L1389.0 1171.8 L1390.5 1174.8 L1392.0 1176.1 L1393.5 1176.5 L1395.0 1178.8 L1396.5 1178.0 L1398.0 1180.7 L1399.5 1181.1 L1401.0 1183.3 L1402.5 1185.5 L1404.0 1184.9 L1405.5 1183.3 L1407.0 1183.6 L1408.5 1183.2 L1410.0 1181.5 L1411.5 1181.3 L1413.0 1182.6 L1414.5 1182.5 L1416.0 1180.1 L1417.5 1181.2 L1419.0 1181.3 L1420.5 1180.1 L1422.0 1178.3 L1423.5 1178.1 L1425.0 1174.6 L1426.5 1173.8 L1428.0 1171.4 L1429.5 1164.9 L1431.0 1162.5 L1432.5 1159.0 L1434.0 1155.0 L1435.5 1150.0 L1437.0 1145.7 L1438.5 1140.5 L1440.0 1137.8 L1441.5 1134.5 L1443.0 1130.6 L1444.5 1127.1 L1446.0 1124.9 L1447.5 1122.9 L1449.0 1121.6 L1450.5 1120.9 L1452.0 1122.4 L1453.5 1122.5 L1455.0 1124.6 L1456.5 1130.9 L1458.0 1135.5 L1459.5 1137.7 L1461.0 1143.8 L1462.5 1150.1 L1464.0 1155.9 L1465.5 1160.8 L1467.0 1166.5 L1468.5 1170.7 L1470.0 1175.5 L1471.5 1178.9 L1473.0 1182.0 L1474.5 1186.4 L1476.0 1189.1 L1477.5 1190.8 L1479.0 1190.7 L1480.5 1192.1 L1482.0 1190.8 L1483.5 1191.8 L1485.0 1189.5 L1486.5 1191.9 L1488.0 1195.4 L1489.5 1195.3 L1491.0 1196.4 L1492.5 1196.0 L1494.0 1199.7 L1495.5 1198.7 L1497.0 1195.9 L1498.5 1193.0 L1500.0 1190.5 L1501.5 1189.3 L1503.0 1187.7 L1504.5 1186.9 L1506.0 1190.3 L1507.5 1194.1 L1509.0 1195.0 L1510.5 1195.2 L1512.0 1197.5 L1513.5 1198.6 L1515.0 1199.6 L1516.5 1198.3 L1518.0 1199.6 L1519.5 1202.0 L1521.0 1202.2 L1522.5 1203.6 L1524.0 1205.6 L1525.5 1203.4 L1527.0 1203.4 L1528.5 1202.6 L1530.0 1202.5 L1531.5 1202.7 L1533.0 1200.9 L1534.5 1200.4 L1536.0 1204.8 L1537.5 1203.8 L1539.0 1204.6 L1540.5 1203.8 L1542.0 1203.4 L1543.5 1203.8 L1545.0 1203.2 L1546.5 1201.0 L1548.0 1202.7 L1549.5 1200.3 L1551.0 1201.5 L1552.5 1204.2 L1554.0 1201.8 L1555.5 1202.9 L1557.0 1200.8 L1558.5 1202.0 L1560.0 1202.2 L1561.5 1202.0 L1563.0 1200.5 L1564.5 1200.7 L1566.0 1201.8 L1567.5 1200.2 L1569.0 1201.0 L1570.5 1202.7 L1572.0 1201.6 L1573.5 1201.1 L1575.0 1201.8 L1576.5 1203.8 L1578.0 1204.0 L1579.5 1204.7 L1581.0 1205.3 L1582.5 1207.8 L1584.0 1205.3 L1585.5 1203.6 L1587.0 1205.9 L1588.5 1206.7 L1590.0 1206.2 L1591.5 1205.1 L1593.0 1208.2 L1594.5 1207.6 L1596.0 1207.1 L1597.5 1206.1 L1599.0 1208.3 L1600.5 1208.9 L1602.0 1210.6 L1603.5 1208.6 L1605.0 1208.3 L1606.5 1209.6 L1608.0 1209.3 L1609.5 1211.0 L1611.0 1210.3 L1612.5 1211.6 L1614.0 1212.0 L1615.5 1212.5 L1617.0 1212.5 L1618.5 1213.0"/>
<path stroke="#02A434" d="M40.5 1304.5 L42.0 1304.3 L43.5 1306.8 L45.0 1303.6 L46.5 1303.7 L48.0 1305.6 L49.5 1305.7 L51.0 1307.5 L52.5 1307.0 L54.0 1304.4 L55.5 1302.8 L57.0 1300.0 L58.5 1300.1 L60.0 1301.0 L61.5 1300.3 L63.0 1298.5 L64.5 1298.9 L66.0 1299.5 L67.5 1301.1 L69.0 1300.3 L70.5 1298.7 L72.0 1298.7 L73.5 1298.7 L75.0 1296.9 L76.5 1296.0 L78.0 1294.2 L79.5 1296.2 L81.0 1296.4 L82.5 1294.9 L84.0 1294.3 L85.5 1294.3 L87.0 1295.6 L88.5 1293.0 L90.0 1290.4 L91.5 1290.1 L93.0 1292.4 L94.5 1292.6 L96.0 1291.9 L97.5 1291.2 L99.0 1289.5 L100.5 1286.8 L102.0 1286.3 L103.5 1284.2 L105.0 1283.8 L106.5 1282.0 L108.0 1281.9 L109.5 1279.9 L111.0 1277.4 L112.5 1278.4 L114.0 1277.4 L115.5 1274.5 L117.0 1274.9 L118.5 1274.8 L120.0 1272.8 L121.5 1271.9 L123.0 1270.9 L124.5 1270.3 L126.0 1268.2 L127.5 1266.4 L129.0 1265.6 L130.5 1264.7 L132.0 1262.4 L133.5 1259.6 L135.0 1257.4 L136.5 1255.8 L138.0 1254.3 L139.5 1254.1 L141.0 1253.0 L142.5 1251.6 L144.0 1251.0 L145.5 1251.3 L147.0 1252.6 L148.5 1252.1 L150.0 1250.2 L151.5 1252.0 L153.0 1252.1 L154.5 1253.2 L156.0 1253.7 L157.5 1254.1 L159.0 1253.7 L160.5 1254.0 L162.0 1258.0 L163.5 1260.9 L165.0 1259.9 L166.5 1262.0 L168.0 1263.0 L169.5 1264.8 L171.0 1265.2 L172.5 1266.8 L174.0 1267.7 L175.5 1267.3 L177.0 1271.3 L178.5 1271.9 L180.0 1271.0 L181.5 1275.1 L183.0 1276.7 L184.5 1278.4 L186.0 1279.7 L187.5 1279.9 L189.0 1280.8 L190.5 1282.6 L192.0 1284.6 L193.5 1288.8 L195.0 1289.4 L196.5 1287.6 L198.0 1288.5 L199.5 1290.1 L201.0 1291.0 L202.5 1290.6 L204.0 1291.3 L205.5 1295.6 L207.0 1295.4 L208.5 1292.4 L210.0 1292.3 L211.5 1294.6 L213.0 1296.4 L214.5 1297.2 L216.0 1295.8 L217.5 1295.1 L219.0 1298.0 L220.5 1298.8 L222.0 1298.1 L223.5 1298.0 L225.0 1299.1 L226.5 1298.4 L228.0 1297.1 L229.5 1297.8 L231.0 1296.9 L232.5 1299.2 L234.0 1298.6 L235.5 1297.2 L237.0 1299.0 L238.5 1299.5 L240.0 1295.4 L241.5 1297.8 L243.0 1300.3 L244.5 1297.6 L246.0 1298.0 L247.5 1297.0 L249.0 1298.1 L250.5 1295.7 L252.0 1296.5 L253.5 1297.7 L255.0 1298.1 L256.5 1298.0 L258.0 1297.3 L259.5 1297.4 L261.0 1296.3 L262.5 1293.6 L264.0 1289.9 L265.5 1289.1 L267.0 1289.7 L268.5 1285.9 L270.0 1280.1 L271.5 1274.5 L273.0 1268.5 L274.5 1260.6 L276.0 1252.8 L277.5 1240.8 L279.0 1229.1 L280.5 1215.4 L282.0 1197.8 L283.5 1183.2 L285.0 1167.1 L286.5 1152.5 L288.0 1139.4 L289.5 1125.6 L291.0 1114.9 L292.5 1107.0 L294.0 1100.8 L295.5 1095.4 L297.0 1094.5 L298.5 1095.5 L300.0 1100.4 L301.5 1103.4 L303.0 1109.6 L304.5 1116.2 L306.0 1124.8 L307.5 1134.0 L309.0 1141.4 L310.5 1149.2 L312.0 1159.3 L313.5 1166.8 L315.0 1177.9 L316.5 1187.2 L318.0 1195.8 L319.5 1205.1 L321.0 1212.9 L322.5 1221.5 L324.0 1226.6 L325.5 1234.1 L327.0 1239.3 L328.5 1242.3 L330.0 1245.6 L331.5 1249.9 L333.0 1250.8 L334.5 1252.3 L336.0 1253.3 L337.5 1253.8 L339.0 1256.1 L340.5 1257.0 L342.0 1258.3 L343.5 1261.6 L345.0 1265.8 L346.5 1266.5 L348.0 1265.7 L349.5 1266.5 L351.0 1268.4 L352.5 1270.4 L354.0 1269.8 L355.5 1269.4 L357.0 1270.9 L358.5 1274.2 L360.0 1276.5 L361.5 1273.0 L363.0 1271.4 L364.5 1275.4 L366.0 1276.1 L367.5 1277.0 L369.0 1278.1 L370.5 1276.7 L372.0 1274.8 L373.5 1274.2 L375.0 1276.3 L376.5 1275.7 L378.0 1276.9 L379.5 1276.2 L381.0 1276.9 L382.5 1276.1 L384.0 1277.5 L385.5 1278.2 L387.0 1280.5 L388.5 1281.7 L390.0 1280.0 L391.5 1279.7 L393.0 1282.7 L394.5 1281.6 L396.0 1281.4 L397.5 1281.0 L399.0 1281.7 L400.5 1281.3 L402.0 1280.4 L403.5 1280.2 L405.0 1278.2 L406.5 1278.5 L408.0 1279.2 L409.5 1279.7 L411.0 1279.2 L412.5 1279.7 L414.0 1279.5 L415.5 1278.1 L417.0 1276.9 L418.5 1280.2 L420.0 1279.8 L421.5 1278.1 L423.0 1279.5 L424.5 1279.2 L426.0 1278.1 L427.5 1275.4 L429.0 1275.4 L430.5 1277.1 L432.0 1279.6 L433.5 1277.1 L435.0 1277.0 L436.5 1276.2 L438.0 1277.2 L439.5 1277.7 L441.0 1274.3 L442.5 1273.5 L444.0 1277.5 L445.5 1277.5 L447.0 1276.7 L448.5 1278.6 L450.0 1278.5 L451.5 1275.3 L453.0 1276.7 L454.5 1278.3 L456.0 1276.2 L457.5 1276.6 L459.0 1277.7 L460.5 1275.7 L462.0 1273.8 L463.5 1274.1 L465.0 1273.4 L466.5 1274.7 L468.0 1272.8 L469.5 1274.6 L471.0 1272.0 L472.5 1272.6 L474.0 1271.0 L475.5 1272.1 L477.0 1274.1 L478.5 1274.0 L480.0 1273.9 L481.5 1271.5 L483.0 1271.2 L484.5 1271.5 L486.0 1271.6 L487.5 1270.0 L489.0 1271.1 L490.5 1270.3 L492.0 1270.7 L493.5 1269.8 L495.0 1268.9 L496.5 1266.6 L498.0 1266.5 L499.5 1265.8 L501.0 1266.3 L502.5 1266.5 L504.0 1266.7 L505.5 1265.2 L507.0 1269.1 L508.5 1265.9 L510.0 1265.8 L511.5 1264.6 L513.0 1260.6 L514.5 1262.7 L516.0 1264.7 L517.5 1260.6 L519.0 1262.9 L520.5 1261.9 L522.0 1261.7 L523.5 1261.7 L525.0 1259.6 L526.5 1261.2 L528.0 1260.9 L529.5 1261.0 L531.0 1263.6 L532.5 1266.7 L534.0 1263.5 L535.5 1262.7 L537.0 1261.7 L538.5 1260.9 L540.0 1262.6 L541.5 1264.1 L543.0 1263.3 L544.5 1263.2 L546.0 1262.6 L547.5 1264.1 L549.0 1259.7 L550.5 1260.6 L552.0 1260.6 L553.5 1259.3 L555.0 1257.2 L556.5 1256.8 L558.0 1257.9 L559.5 1257.8 L561.0 1256.1 L562.5 1256.4 L564.0 1258.6 L565.5 1259.3 L567.0 1257.5 L568.5 1256.3 L570.0 1256.7 L571.5 1260.4 L573.0 1258.3 L574.5 1257.2 L576.0 1258.6 L577.5 1259.7 L579.0 1258.4 L580.5 1254.9 L582.0 1256.1 L583.5 1255.2 L585.0 1254.7 L586.5 1254.1 L588.0 1254.9 L589.5 1254.3 L591.0 1256.6 L592.5 1256.2 L594.0 1254.9 L595.5 1254.7 L597.0 1256.4 L598.5 1258.2 L600.0 1258.0 L601.5 1256.0 L603.0 1252.0 L604.5 1254.7 L606.0 1255.6 L607.5 1255.5 L609.0 1254.4 L610.5 1255.4 L612.0 1256.2 L613.5 1260.0 L615.0 1257.7 L616.5 1255.9 L618.0 1256.0 L619.5 1256.5 L621.0 1256.9 L622.5 1256.2 L624.0 1256.7 L625.5 1258.5 L627.0 1258.5 L628.5 1258.1 L630.0 1258.9 L631.5 1257.2 L633.0 1255.4 L634.5 1254.2 L636.0 1255.4 L637.5 1256.6 L639.0 1258.0 L640.5 1258.7 L642.0 1256.8 L643.5 1256.4 L645.0 1259.1 L646.5 1259.4 L648.0 1257.5 L649.5 1257.8 L651.0 1259.3 L652.5 1258.0 L654.0 1256.1 L655.5 1254.1 L657.0 1258.4 L658.5 1258.0 L660.0 1257.6 L661.5 1255.9 L663.0 1255.0 L664.5 1256.4 L666.0 1256.7 L667.5 1256.8 L669.0 1254.6 L670.5 1255.7 L672.0 1254.7 L673.5 1254.2 L675.0 1251.7 L676.5 1252.4 L678.0 1252.8 L679.5 1250.5 L681.0 1248.0 L682.5 1247.9 L684.0 1248.0 L685.5 1244.7 L687.0 1242.9 L688.5 1242.7 L690.0 1240.2 L691.5 1239.8 L693.0 1236.8 L694.5 1235.0 L696.0 1236.5 L697.5 1239.7 L699.0 1238.1 L700.5 1239.5 L702.0 1240.3 L703.5 1239.7 L705.0 1241.9 L706.5 1241.6 L708.0 1241.3 L709.5 1238.1 L711.0 1236.6 L712.5 1235.4 L714.0 1237.8 L715.5 1238.3 L717.0 1238.9 L718.5 1238.1 L720.0 1235.7 L721.5 1234.8 L723.0 1234.9 L724.5 1234.8 L726.0 1231.2 L727.5 1230.8 L729.0 1229.6 L730.5 1228.4 L732.0 1228.0 L733.5 1224.9 L735.0 1222.9 L736.5 1222.8 L738.0 1220.8 L739.5 1218.0 L741.0 1216.1 L742.5 1213.9 L744.0 1210.3 L745.5 1208.4 L747.0 1205.3 L748.5 1202.5 L750.0 1198.7 L751.5 1193.3 L753.0 1187.6 L754.5 1182.8 L756.0 1177.6 L757.5 1175.3 L759.0 1168.2 L760.5 1162.9 L762.0 1157.6 L763.5 1149.8 L765.0 1144.6 L766.5 1139.9 L768.0 1134.1 L769.5 1128.5 L771.0 1124.7 L772.5 1121.4 L774.0 1116.3 L775.5 1110.5 L777.0 1105.1 L778.5 1099.0 L780.0 1096.5 L781.5 1092.1 L783.0 1087.2 L784.5 1084.2 L786.0 1080.3 L787.5 1075.9 L789.0 1071.9 L790.5 1069.2 L792.0 1067.7 L793.5 1069.8 L795.0 1071.1 L796.5 1072.2 L798.0 1073.1 L799.5 1075.2 L801.0 1079.0 L802.5 1078.0 L804.0 1082.4 L805.5 1085.1 L807.0 1088.0 L808.5 1090.9 L810.0 1094.7 L811.5 1097.8 L813.0 1101.9 L814.5 1106.8 L816.0 1109.8 L817.5 1116.1 L819.0 1120.0 L820.5 1120.0 L822.0 1125.5 L823.5 1131.8 L825.0 1137.1 L826.5 1141.8 L828.0 1146.6 L829.5 1151.5 L831.0 1156.4 L832.5 1161.4 L834.0 1164.3 L835.5 1167.9 L837.0 1169.4 L838.5 1173.5 L840.0 1176.7 L841.5 1182.4 L843.0 1186.5 L844.5 1187.2 L846.0 1187.5 L847.5 1191.0 L849.0 1194.0 L850.5 1196.6 L852.0 1199.4 L853.5 1200.6 L855.0 1199.3 L856.5 1204.7 L858.0 1205.4 L859.5 1206.8 L861.0 1210.4 L862.5 1210.9 L864.0 1210.9 L865.5 1212.6 L867.0 1216.2 L868.5 1219.2 L870.0 1221.5 L871.5 1221.1 L873.0 1222.2 L874.5 1225.4 L876.0 1225.4 L877.5 1228.4 L879.0 1228.7 L880.5 1229.1 L882.0 1229.8 L883.5 1230.9 L885.0 1231.0 L886.5 1231.3 L888.0 1232.5 L889.5 1233.2 L891.0 1234.9 L892.5 1235.5 L894.0 1235.9 L895.5 1237.0 L897.0 1238.3 L898.5 1240.9 L900.0 1240.2 L901.5 1240.4 L903.0 1241.9 L904.5 1244.1 L906.0 1244.6 L907.5 1245.9 L909.0 1247.0 L910.5 1248.4 L912.0 1249.7 L913.5 1249.8 L915.0 1248.3 L916.5 1248.7 L918.0 1248.2 L919.5 1252.9 L921.0 1254.5 L922.5 1255.0 L924.0 1254.0 L925.5 1254.9 L927.0 1254.0 L928.5 1253.8 L930.0 1252.6 L931.5 1253.6 L933.0 1255.1 L934.5 1257.8 L936.0 1258.7 L937.5 1256.5 L939.0 1257.4 L940.5 1257.6 L942.0 1256.0 L943.5 1254.9 L945.0 1256.5 L946.5 1256.4 L948.0 1258.2 L949.5 1258.7 L951.0 1259.2 L952.5 1259.9 L954.0 1260.6 L955.5 1259.1 L957.0 1260.8 L958.5 1258.8 L960.0 1260.9 L961.5 1261.2 L963.0 1260.0 L964.5 1259.5 L966.0 1261.9 L967.5 1261.4 L969.0 1262.7 L970.5 1262.6 L972.0 1261.6 L973.5 1261.3 L975.0 1262.2 L976.5 1261.1 L978.0 1259.4 L979.5 1260.4 L981.0 1261.0 L982.5 1259.9 L984.0 1258.4 L985.5 1256.7 L987.0 1255.9 L988.5 1254.0 L990.0 1253.9 L991.5 1257.0 L993.0 1255.9 L994.5 1256.9 L996.0 1256.4 L997.5 1258.3 L999.0 1259.6 L1000.5 1264.1 L1002.0 1260.9 L1003.5 1261.7 L1005.0 1265.2 L1006.5 1265.6 L1008.0 1262.9 L1009.5 1265.6 L1011.0 1266.9 L1012.5 1265.7 L1014.0 1267.6 L1015.5 1266.3 L1017.0 1266.1 L1018.5 1267.4 L1020.0 1267.4 L1021.5 1267.6 L1023.0 1271.6 L1024.5 1269.3 L1026.0 1269.2 L1027.5 1270.8 L1029.0 1270.6 L1030.5 1272.2 L1032.0 1270.8 L1033.5 1270.8 L1035.0 1270.9 L1036.5 1270.9 L1038.0 1270.6 L1039.5 1271.0 L1041.0 1272.5 L1042.5 1270.1 L1044.0 1270.3 L1045.5 1271.5 L1047.0 1273.3 L1048.5 1274.1 L1050.0 1274.8 L1051.5 1273.3 L1053.0 1275.0 L1054.5 1275.1 L1056.0 1275.0 L1057.5 1275.0 L1059.0 1273.3 L1060.5 1275.6 L1062.0 1275.9 L1063.5 1274.1 L1065.0 1276.1 L1066.5 1278.0 L1068.0 1276.6 L1069.5 1277.4 L1071.0 1276.6 L1072.5 1275.3 L1074.0 1275.2 L1075.5 1276.2 L1077.0 1278.6 L1078.5 1278.1 L1080.0 1275.9 L1081.5 1277.5 L1083.0 1276.2 L1084.5 1275.5 L1086.0 1276.5 L1087.5 1274.8 L1089.0 1273.8 L1090.5 1276.7 L1092.0 1273.9 L1093.5 1275.8 L1095.0 1274.5 L1096.5 1275.6 L1098.0 1275.8 L1099.5 1275.0 L1101.0 1273.5 L1102.5 1275.9 L1104.0 1276.8 L1105.5 1276.4 L1107.0 1278.3 L1108.5 1279.6 L1110.0 1278.4 L1111.5 1278.9 L1113.0 1278.2 L1114.5 1280.1 L1116.0 1281.3 L1117.5 1283.4 L1119.0 1282.1 L1120.5 1281.1 L1122.0 1281.6 L1123.5 1279.4 L1125.0 1280.9 L1126.5 1279.6 L1128.0 1279.4 L1129.5 1281.5 L1131.0 1281.7 L1132.5 1282.7 L1134.0 1279.9 L1135.5 1280.9 L1137.0 1280.5 L1138.5 1280.3 L1140.0 1279.2 L1141.5 1282.0 L1143.0 1281.4 L1144.5 1279.4 L1146.0 1278.6 L1147.5 1279.6 L1149.0 1282.3 L1150.5 1281.1 L1152.0 1281.2 L1153.5 1282.2 L1155.0 1282.7 L1156.5 1283.4 L1158.0 1284.3 L1159.5 1284.0 L1161.0 1284.1 L1162.5 1281.7 L1164.0 1282.7 L1165.5 1282.5 L1167.0 1282.8 L1168.5 1282.6 L1170.0 1282.1 L1171.5 1282.7 L1173.0 1284.3 L1174.5 1282.7 L1176.0 1281.8 L1177.5 1284.4 L1179.0 1285.4 L1180.5 1284.4 L1182.0 1284.8 L1183.5 1284.1 L1185.0 1285.8 L1186.5 1287.9 L1188.0 1288.4 L1189.5 1287.4 L1191.0 1286.5 L1192.5 1285.1 L1194.0 1287.7 L1195.5 1288.3 L1197.0 1289.8 L1198.5 1290.7 L1200.0 1289.2 L1201.5 1289.1 L1203.0 1287.0 L1204.5 1289.3 L1206.0 1289.5 L1207.5 1289.2 L1209.0 1288.1 L1210.5 1287.6 L1212.0 1288.1 L1213.5 1285.8 L1215.0 1286.6 L1216.5 1286.9 L1218.0 1284.4 L1219.5 1283.7 L1221.0 1285.3 L1222.5 1285.3 L1224.0 1286.1 L1225.5 1285.7 L1227.0 1283.7 L1228.5 1285.1 L1230.0 1285.7 L1231.5 1284.0 L1233.0 1282.7 L1234.5 1281.1 L1236.0 1282.9 L1237.5 1283.4 L1239.0 1279.7 L1240.5 1280.6 L1242.0 1280.0 L1243.5 1277.7 L1245.0 1276.6 L1246.5 1275.0 L1248.0 1274.6 L1249.5 1274.6 L1251.0 1274.4 L1252.5 1273.4 L1254.0 1273.1 L1255.5 1271.3 L1257.0 1269.5 L1258.5 1271.9 L1260.0 1271.5 L1261.5 1269.6 L1263.0 1271.8 L1264.5 1271.0 L1266.0 1271.2 L1267.5 1272.7 L1269.0 1268.0 L1270.5 1269.3 L1272.0 1272.5 L1273.5 1272.6 L1275.0 1272.6 L1276.5 1275.8 L1278.0 1275.7 L1279.5 1274.4 L1281.0 1275.9 L1282.5 1279.1 L1284.0 1280.0 L1285.5 1276.9 L1287.0 1279.1 L1288.5 1279.3 L1290.0 1278.4 L1291.5 1280.2 L1293.0 1279.7 L1294.5 1282.1 L1296.0 1285.9 L1297.5 1285.7 L1299.0 1286.1 L1300.5 1286.6 L1302.0 1286.9 L1303.5 1287.7 L1305.0 1285.6 L1306.5 1286.7 L1308.0 1288.8 L1309.5 1287.5 L1311.0 1288.6 L1312.5 1291.5 L1314.0 1292.2 L1315.5 1289.8 L1317.0 1289.3 L1318.5 1290.8 L1320.0 1290.3 L1321.5 1288.5 L1323.0 1288.0 L1324.5 1286.6 L1326.0 1285.5 L1327.5 1287.4 L1329.0 1285.2 L1330.5 1282.9 L1332.0 1282.4 L1333.5 1283.6 L1335.0 1280.3 L1336.5 1277.0 L1338.0 1276.5 L1339.5 1275.3 L1341.0 1273.5 L1342.5 1273.4 L1344.0 1272.5 L1345.5 1270.8 L1347.0 1268.7 L1348.5 1267.6 L1350.0 1263.9 L1351.5 1264.5 L1353.0 1262.6 L1354.5 1260.4 L1356.0 1256.4 L1357.5 1258.2 L1359.0 1254.3 L1360.5 1253.3 L1362.0 1253.6 L1363.5 1250.7 L1365.0 1248.3 L1366.5 1244.9 L1368.0 1244.7 L1369.5 1244.5 L1371.0 1243.6 L1372.5 1241.4 L1374.0 1241.8 L1375.5 1242.0 L1377.0 1242.0 L1378.5 1243.5 L1380.0 1247.2 L1381.5 1247.1 L1383.0 1250.0 L1384.5 1250.7 L1386.0 1253.9 L1387.5 1253.6 L1389.0 1256.3 L1390.5 1258.2 L1392.0 1259.6 L1393.5 1262.3 L1395.0 1263.5 L1396.5 1265.4 L1398.0 1267.7 L1399.5 1271.0 L1401.0 1272.1 L1402.5 1272.0 L1404.0 1273.9 L1405.5 1274.4 L1407.0 1274.5 L1408.5 1277.5 L1410.0 1277.5 L1411.5 1277.3 L1413.0 1275.4 L1414.5 1275.4 L1416.0 1276.8 L1417.5 1274.3 L1419.0 1275.0 L1420.5 1273.8 L1422.0 1272.2 L1423.5 1271.7 L1425.0 1270.1 L1426.5 1269.7 L1428.0 1267.1 L1429.5 1265.8 L1431.0 1266.8 L1432.5 1263.6 L1434.0 1260.2 L1435.5 1260.8 L1437.0 1257.2 L1438.5 1252.7 L1440.0 1254.9 L1441.5 1255.4 L1443.0 1253.2 L1444.5 1253.2 L1446.0 1250.4 L1447.5 1250.1 L1449.0 1249.5 L1450.5 1252.3 L1452.0 1256.2 L1453.5 1257.6 L1455.0 1258.9 L1456.5 1260.0 L1458.0 1264.0 L1459.5 1267.1 L1461.0 1272.4 L1462.5 1274.7 L1464.0 1278.5 L1465.5 1280.0 L1467.0 1283.8 L1468.5 1283.2 L1470.0 1286.3 L1471.5 1290.3 L1473.0 1289.2 L1474.5 1288.4 L1476.0 1291.1 L1477.5 1292.7 L1479.0 1292.4 L1480.5 1289.9 L1482.0 1291.7 L1483.5 1290.6 L1485.0 1294.9 L1486.5 1293.7 L1488.0 1292.9 L1489.5 1294.3 L1491.0 1293.7 L1492.5 1292.6 L1494.0 1295.5 L1495.5 1294.1 L1497.0 1292.8 L1498.5 1297.0 L1500.0 1298.5 L1501.5 1298.2 L1503.0 1297.2 L1504.5 1295.9 L1506.0 1298.5 L1507.5 1300.5 L1509.0 1299.7 L1510.5 1299.9 L1512.0 1297.7 L1513.5 1299.0 L1515.0 1298.8 L1516.5 1295.3 L1518.0 1294.0 L1519.5 1295.2 L1521.0 1296.5 L1522.5 1297.2 L1524.0 1297.1 L1525.5 1297.2 L1527.0 1297.1 L1528.5 1297.8 L1530.0 1298.5 L1531.5 1298.1 L1533.0 1297.6 L1534.5 1297.6 L1536.0 1297.0 L1537.5 1298.0 L1539.0 1298.0 L1540.5 1300.1 L1542.0 1299.1 L1543.5 1298.9 L1545.0 1297.8 L1546.5 1298.3 L1548.0 1299.4 L1549.5 1298.3 L1551.0 1297.3 L1552.5 1296.3 L1554.0 1297.5 L1555.5 1298.1 L1557.0 1298.6 L1558.5 1299.4 L1560.0 1297.1 L1561.5 1295.1 L1563.0 1296.8 L1564.5 1295.3 L1566.0 1296.1 L1567.5 1300.1 L1569.0 1299.7 L1570.5 1298.8 L1572.0 1298.7 L1573.5 1299.4 L1575.0 1298.2 L1576.5 1300.8 L1578.0 1300.8 L1579.5 1302.7 L1581.0 1300.0 L1582.5 1301.2 L1584.0 1300.1 L1585.5 1301.6 L1587.0 1300.1 L1588.5 1301.6 L1590.0 1300.6 L1591.5 1300.1 L1593.0 1301.3 L1594.5 1302.5 L1596.0 1303.0 L1597.5 1304.6 L1599.0 1303.5 L1600.5 1299.6 L1602.0 1301.3 L1603.5 1301.1 L1605.0 1303.6 L1606.5 1305.4 L1608.0 1304.3 L1609.5 1305.0 L1611.0 1307.6 L1612.5 1309.2 L1614.0 1311.7 L1615.5 1311.5 L1617.0 1312.5 L1618.5 1313.9"/>
<path stroke="#8C2CB4" d="M40.5 1441.5 L42.0 1439.5 L43.5 1438.6 L45.0 1439.1 L46.5 1441.3 L48.0 1440.9 L49.5 1437.8 L51.0 1439.2 L52.5 1437.6 L54.0 1438.1 L55.5 1436.4 L57.0 1436.9 L58.5 1435.4 L60.0 1434.7 L61.5 1434.0 L63.0 1433.4 L64.5 1431.5 L66.0 1430.4 L67.5 1433.4 L69.0 1430.2 L70.5 1426.9 L72.0 1425.2 L73.5 1424.8 L75.0 1427.3 L76.5 1428.9 L78.0 1425.0 L79.5 1425.1 L81.0 1423.6 L82.5 1425.9 L84.0 1424.8 L85.5 1424.7 L87.0 1425.8 L88.5 1425.8 L90.0 1424.0 L91.5 1421.1 L93.0 1419.6 L94.5 1418.9 L96.0 1418.2 L97.5 1421.0 L99.0 1418.3 L100.5 1417.2 L102.0 1416.7 L103.5 1416.8 L105.0 1413.4 L106.5 1413.4 L108.0 1411.5 L109.5 1408.8 L111.0 1406.0 L112.5 1407.7 L114.0 1405.0 L115.5 1403.3 L117.0 1402.4 L118.5 1401.0 L120.0 1400.1 L121.5 1396.5 L123.0 1395.3 L124.5 1394.3 L126.0 1393.2 L127.5 1392.3 L129.0 1390.1 L130.5 1389.8 L132.0 1386.1 L133.5 1383.3 L135.0 1383.4 L136.5 1383.8 L138.0 1381.1 L139.5 1379.8 L141.0 1379.2 L142.5 1379.3 L144.0 1378.6 L145.5 1378.4 L147.0 1376.2 L148.5 1379.5 L150.0 1378.8 L151.5 1378.2 L153.0 1381.4 L154.5 1383.0 L156.0 1385.1 L157.5 1384.3 L159.0 1388.0 L160.5 1387.9 L162.0 1386.9 L163.5 1390.7 L165.0 1390.6 L166.5 1390.2 L168.0 1391.4 L169.5 1391.0 L171.0 1394.5 L172.5 1395.6 L174.0 1397.4 L175.5 1400.6 L177.0 1401.2 L178.5 1401.6 L180.0 1403.1 L181.5 1405.5 L183.0 1408.0 L184.5 1407.7 L186.0 1408.7 L187.5 1411.8 L189.0 1412.5 L190.5 1414.0 L192.0 1417.3 L193.5 1415.4 L195.0 1416.6 L196.5 1415.9 L198.0 1418.7 L199.5 1421.7 L201.0 1422.8 L202.5 1421.4 L204.0 1424.2 L205.5 1425.3 L207.0 1425.7 L208.5 1428.5 L210.0 1426.0 L211.5 1425.2 L213.0 1426.5 L214.5 1425.4 L216.0 1429.7 L217.5 1430.0 L219.0 1429.0 L220.5 1430.0 L222.0 1430.9 L223.5 1432.3 L225.0 1429.2 L226.5 1427.7 L228.0 1426.9 L229.5 1428.6 L231.0 1427.9 L232.5 1429.3 L234.0 1430.3 L235.5 1428.9 L237.0 1428.1 L238.5 1430.2 L240.0 1429.2 L241.5 1429.6 L243.0 1429.7 L244.5 1426.7 L246.0 1426.9 L247.5 1429.9 L249.0 1426.6 L250.5 1424.0 L252.0 1423.4 L253.5 1422.1 L255.0 1420.0 L256.5 1418.9 L258.0 1417.7 L259.5 1415.2 L261.0 1412.1 L262.5 1406.6 L264.0 1402.8 L265.5 1399.3 L267.0 1392.5 L268.5 1385.1 L270.0 1373.3 L271.5 1357.9 L273.0 1342.1 L274.5 1323.4 L276.0 1302.4 L277.5 1278.2 L279.0 1252.0 L280.5 1224.2 L282.0 1194.1 L283.5 1162.5 L285.0 1133.3 L286.5 1107.6 L288.0 1085.0 L289.5 1064.9 L291.0 1049.7 L292.5 1040.6 L294.0 1035.6 L295.5 1031.6 L297.0 1029.1 L298.5 1033.8 L300.0 1043.8 L301.5 1055.1 L303.0 1069.9 L304.5 1085.8 L306.0 1102.7 L307.5 1122.7 L309.0 1143.7 L310.5 1164.5 L312.0 1184.3 L313.5 1204.2 L315.0 1225.3 L316.5 1246.1 L318.0 1262.9 L319.5 1276.0 L321.0 1288.6 L322.5 1299.3 L324.0 1307.2 L325.5 1312.5 L327.0 1317.9 L328.5 1323.8 L330.0 1326.7 L331.5 1330.3 L333.0 1333.3 L334.5 1335.7 L336.0 1338.9 L337.5 1343.3 L339.0 1347.0 L340.5 1352.2 L342.0 1354.4 L343.5 1358.3 L345.0 1362.6 L346.5 1364.3 L348.0 1367.6 L349.5 1369.8 L351.0 1369.2 L352.5 1371.5 L354.0 1372.9 L355.5 1376.6 L357.0 1377.3 L358.5 1379.0 L360.0 1381.6 L361.5 1380.1 L363.0 1381.0 L364.5 1382.2 L366.0 1382.8 L367.5 1384.9 L369.0 1385.8 L370.5 1386.1 L372.0 1385.6 L373.5 1385.9 L375.0 1386.9 L376.5 1386.8 L378.0 1386.1 L379.5 1389.0 L381.0 1390.7 L382.5 1390.1 L384.0 1389.5 L385.5 1390.4 L387.0 1391.5 L388.5 1392.6 L390.0 1394.1 L391.5 1391.9 L393.0 1393.2 L394.5 1393.8 L396.0 1393.3 L397.5 1392.3 L399.0 1391.9 L400.5 1392.8 L402.0 1394.6 L403.5 1395.5 L405.0 1393.8 L406.5 1394.7 L408.0 1395.5 L409.5 1395.7 L411.0 1394.9 L412.5 1394.6 L414.0 1394.5 L415.5 1392.2 L417.0 1392.7 L418.5 1390.7 L420.0 1390.0 L421.5 1391.0 L423.0 1391.5 L424.5 1394.2 L426.0 1395.0 L427.5 1393.5 L429.0 1393.2 L430.5 1393.1 L432.0 1393.4 L433.5 1393.7 L435.0 1393.7 L436.5 1392.6 L438.0 1391.9 L439.5 1392.3 L441.0 1393.9 L442.5 1393.1 L444.0 1394.9 L445.5 1393.7 L447.0 1394.4 L448.5 1391.4 L450.0 1391.2 L451.5 1392.2 L453.0 1391.7 L454.5 1390.7 L456.0 1391.9 L457.5 1389.6 L459.0 1388.3 L460.5 1387.6 L462.0 1389.9 L463.5 1388.9 L465.0 1387.7 L466.5 1385.3 L468.0 1386.1 L469.5 1386.0 L471.0 1386.2 L472.5 1385.8 L474.0 1383.4 L475.5 1383.3 L477.0 1383.7 L478.5 1382.6 L480.0 1380.5 L481.5 1379.2 L483.0 1379.5 L484.5 1379.1 L486.0 1381.2 L487.5 1379.9 L489.0 1377.9 L490.5 1378.4 L492.0 1375.8 L493.5 1373.0 L495.0 1377.9 L496.5 1377.8 L498.0 1373.3 L499.5 1372.4 L501.0 1372.7 L502.5 1371.1 L504.0 1370.0 L505.5 1369.5 L507.0 1369.5 L508.5 1369.5 L510.0 1370.5 L511.5 1370.4 L513.0 1370.0 L514.5 1370.2 L516.0 1369.2 L517.5 1371.9 L519.0 1368.8 L520.5 1370.5 L522.0 1371.6 L523.5 1372.1 L525.0 1372.6 L526.5 1373.2 L528.0 1370.5 L529.5 1371.7 L531.0 1371.8 L532.5 1370.9 L534.0 1371.3 L535.5 1373.2 L537.0 1370.7 L538.5 1370.0 L540.0 1370.2 L541.5 1370.3 L543.0 1370.2 L544.5 1369.5 L546.0 1369.5 L547.5 1369.6 L549.0 1370.1 L550.5 1370.2 L552.0 1368.2 L553.5 1369.7 L555.0 1368.0 L556.5 1368.2 L558.0 1367.9 L559.5 1366.3 L561.0 1364.9 L562.5 1368.3 L564.0 1366.2 L565.5 1365.7 L567.0 1368.1 L568.5 1366.9 L570.0 1369.1 L571.5 1369.1 L573.0 1367.4 L574.5 1366.7 L576.0 1367.0 L577.5 1365.7 L579.0 1368.1 L580.5 1369.2 L582.0 1369.1 L583.5 1370.1 L585.0 1369.1 L586.5 1372.6 L588.0 1373.3 L589.5 1370.9 L591.0 1372.5 L592.5 1374.5 L594.0 1373.2 L595.5 1372.0 L597.0 1372.3 L598.5 1375.3 L600.0 1376.8 L601.5 1373.9 L603.0 1374.8 L604.5 1374.4 L606.0 1375.2 L607.5 1376.0 L609.0 1375.9 L610.5 1376.0 L612.0 1378.8 L613.5 1377.3 L615.0 1377.5 L616.5 1378.9 L618.0 1377.8 L619.5 1377.5 L621.0 1377.6 L622.5 1376.2 L624.0 1377.5 L625.5 1378.4 L627.0 1377.6 L628.5 1376.8 L630.0 1376.4 L631.5 1375.3 L633.0 1376.7 L634.5 1377.9 L636.0 1377.8 L637.5 1376.6 L639.0 1375.2 L640.5 1374.3 L642.0 1374.5 L643.5 1375.1 L645.0 1376.1 L646.5 1374.7 L648.0 1373.8 L649.5 1373.7 L651.0 1373.4 L652.5 1373.2 L654.0 1370.5 L655.5 1370.2 L657.0 1371.0 L658.5 1372.5 L660.0 1371.6 L661.5 1370.8 L663.0 1370.3 L664.5 1368.0 L666.0 1369.0 L667.5 1367.7 L669.0 1365.8 L670.5 1366.5 L672.0 1363.0 L673.5 1361.8 L675.0 1361.6 L676.5 1361.1 L678.0 1358.1 L679.5 1354.5 L681.0 1354.3 L682.5 1353.0 L684.0 1353.1 L685.5 1349.9 L687.0 1346.1 L688.5 1343.2 L690.0 1343.3 L691.5 1341.2 L693.0 1342.5 L694.5 1342.8 L696.0 1341.9 L697.5 1343.4 L699.0 1344.6 L700.5 1346.6 L702.0 1350.9 L703.5 1351.2 L705.0 1350.3 L706.5 1349.7 L708.0 1350.5 L709.5 1351.1 L711.0 1351.7 L712.5 1352.2 L714.0 1350.5 L715.5 1348.9 L717.0 1352.0 L718.5 1351.6 L720.0 1350.5 L721.5 1349.1 L723.0 1344.4 L724.5 1343.1 L726.0 1341.5 L727.5 1340.8 L729.0 1336.5 L730.5 1335.3 L732.0 1335.7 L733.5 1333.6 L735.0 1331.3 L736.5 1331.0 L738.0 1326.5 L739.5 1325.4 L741.0 1323.2 L742.5 1321.1 L744.0 1316.5 L745.5 1311.1 L747.0 1306.8 L748.5 1301.5 L750.0 1298.7 L751.5 1294.7 L753.0 1291.7 L754.5 1287.0 L756.0 1282.7 L757.5 1279.3 L759.0 1274.7 L760.5 1267.9 L762.0 1264.3 L763.5 1259.6 L765.0 1252.6 L766.5 1247.2 L768.0 1242.3 L769.5 1235.2 L771.0 1229.1 L772.5 1224.4 L774.0 1216.7 L775.5 1210.5 L777.0 1204.9 L778.5 1201.4 L780.0 1197.3 L781.5 1194.7 L783.0 1188.6 L784.5 1179.9 L786.0 1175.7 L787.5 1170.6 L789.0 1166.6 L790.5 1165.2 L792.0 1164.2 L793.5 1163.0 L795.0 1163.6 L796.5 1166.2 L798.0 1169.4 L799.5 1171.5 L801.0 1174.3 L802.5 1178.2 L804.0 1180.4 L805.5 1184.6 L807.0 1186.7 L808.5 1190.1 L810.0 1192.7 L811.5 1196.8 L813.0 1199.9 L814.5 1202.6 L816.0 1208.0 L817.5 1212.8 L819.0 1217.6 L820.5 1221.2 L822.0 1224.3 L823.5 1227.7 L825.0 1229.9 L826.5 1235.1 L828.0 1241.2 L829.5 1244.8 L831.0 1247.1 L832.5 1249.6 L834.0 1253.2 L835.5 1256.2 L837.0 1257.5 L838.5 1262.3 L840.0 1268.5 L841.5 1272.6 L843.0 1275.3 L844.5 1278.3 L846.0 1281.9 L847.5 1284.9 L849.0 1287.6 L850.5 1290.5 L852.0 1295.8 L853.5 1298.6 L855.0 1302.0 L856.5 1306.4 L858.0 1308.4 L859.5 1309.6 L861.0 1312.5 L862.5 1313.4 L864.0 1317.7 L865.5 1319.5 L867.0 1321.0 L868.5 1323.8 L870.0 1326.6 L871.5 1326.5 L873.0 1328.6 L874.5 1333.8 L876.0 1334.7 L877.5 1337.8 L879.0 1337.8 L880.5 1340.1 L882.0 1341.1 L883.5 1343.2 L885.0 1343.7 L886.5 1344.7 L888.0 1347.6 L889.5 1347.3 L891.0 1345.5 L892.5 1347.8 L894.0 1348.1 L895.5 1348.6 L897.0 1349.8 L898.5 1351.4 L900.0 1352.4 L901.5 1351.7 L903.0 1350.8 L904.5 1353.3 L906.0 1355.7 L907.5 1355.4 L909.0 1357.9 L910.5 1359.0 L912.0 1358.9 L913.5 1359.9 L915.0 1359.3 L916.5 1359.2 L918.0 1359.1 L919.5 1361.3 L921.0 1362.7 L922.5 1361.4 L924.0 1363.2 L925.5 1360.8 L927.0 1362.8 L928.5 1364.6 L930.0 1368.7 L931.5 1367.9 L933.0 1369.2 L934.5 1367.3 L936.0 1369.8 L937.5 1370.8 L939.0 1369.7 L940.5 1367.0 L942.0 1370.4 L943.5 1372.3 L945.0 1373.4 L946.5 1372.4 L948.0 1371.1 L949.5 1373.8 L951.0 1375.9 L952.5 1375.2 L954.0 1376.3 L955.5 1375.9 L957.0 1376.7 L958.5 1377.1 L960.0 1375.8 L961.5 1379.9 L963.0 1377.2 L964.5 1376.9 L966.0 1375.7 L967.5 1376.2 L969.0 1375.5 L970.5 1374.5 L972.0 1374.3 L973.5 1377.2 L975.0 1377.1 L976.5 1374.4 L978.0 1375.0 L979.5 1378.3 L981.0 1379.3 L982.5 1380.4 L984.0 1378.5 L985.5 1380.5 L987.0 1379.7 L988.5 1379.7 L990.0 1380.1 L991.5 1381.7 L993.0 1381.4 L994.5 1381.3 L996.0 1379.0 L997.5 1378.8 L999.0 1378.4 L1000.5 1379.5 L1002.0 1380.4 L1003.5 1381.1 L1005.0 1383.1 L1006.5 1383.9 L1008.0 1384.7 L1009.5 1384.6 L1011.0 1385.9 L1012.5 1385.7 L1014.0 1386.7 L1015.5 1387.1 L1017.0 1387.5 L1018.5 1386.8 L1020.0 1385.4 L1021.5 1385.8 L1023.0 1390.0 L1024.5 1389.5 L1026.0 1389.3 L1027.5 1388.7 L1029.0 1389.5 L1030.5 1392.9 L1032.0 1389.8 L1033.5 1390.6 L1035.0 1391.1 L1036.5 1390.4 L1038.0 1390.7 L1039.5 1391.4 L1041.0 1391.9 L1042.5 1392.5 L1044.0 1394.1 L1045.5 1392.7 L1047.0 1394.9 L1048.5 1396.5 L1050.0 1395.9 L1051.5 1392.6 L1053.0 1390.8 L1054.5 1395.2 L1056.0 1395.6 L1057.5 1394.3 L1059.0 1396.4 L1060.5 1395.1 L1062.0 1395.2 L1063.5 1394.9 L1065.0 1396.4 L1066.5 1396.2 L1068.0 1397.1 L1069.5 1399.0 L1071.0 1398.3 L1072.5 1397.1 L1074.0 1399.5 L1075.5 1400.0 L1077.0 1398.4 L1078.5 1398.6 L1080.0 1399.5 L1081.5 1399.6 L1083.0 1400.1 L1084.5 1400.9 L1086.0 1400.8 L1087.5 1403.1 L1089.0 1400.2 L1090.5 1400.5 L1092.0 1403.7 L1093.5 1404.4 L1095.0 1401.3 L1096.5 1400.2 L1098.0 1399.6 L1099.5 1402.5 L1101.0 1401.6 L1102.5 1400.2 L1104.0 1402.0 L1105.5 1403.5 L1107.0 1403.6 L1108.5 1405.4 L1110.0 1404.3 L1111.5 1403.1 L1113.0 1403.1 L1114.5 1404.0 L1116.0 1405.4 L1117.5 1405.3 L1119.0 1405.4 L1120.5 1404.6 L1122.0 1405.6 L1123.5 1406.0 L1125.0 1404.6 L1126.5 1403.4 L1128.0 1407.1 L1129.5 1406.5 L1131.0 1405.7 L1132.5 1406.5 L1134.0 1406.1 L1135.5 1404.7 L1137.0 1406.5 L1138.5 1405.9 L1140.0 1407.6 L1141.5 1407.7 L1143.0 1409.0 L1144.5 1408.1 L1146.0 1408.2 L1147.5 1407.5 L1149.0 1407.1 L1150.5 1407.0 L1152.0 1410.0 L1153.5 1409.8 L1155.0 1409.3 L1156.5 1410.6 L1158.0 1410.3 L1159.5 1410.2 L1161.0 1411.5 L1162.5 1412.8 L1164.0 1411.2 L1165.5 1409.5 L1167.0 1411.3 L1168.5 1414.7 L1170.0 1412.9 L1171.5 1415.3 L1173.0 1414.6 L1174.5 1415.3 L1176.0 1414.6 L1177.5 1412.9 L1179.0 1414.8 L1180.5 1418.1 L1182.0 1416.7 L1183.5 1417.4 L1185.0 1417.2 L1186.5 1417.9 L1188.0 1418.9 L1189.5 1420.0 L1191.0 1422.1 L1192.5 1419.1 L1194.0 1418.6 L1195.5 1417.7 L1197.0 1416.3 L1198.5 1416.5 L1200.0 1418.7 L1201.5 1417.8 L1203.0 1422.1 L1204.5 1422.6 L1206.0 1421.9 L1207.5 1422.0 L1209.0 1424.3 L1210.5 1425.7 L1212.0 1426.9 L1213.5 1425.2 L1215.0 1425.2 L1216.5 1425.5 L1218.0 1425.5 L1219.5 1424.9 L1221.0 1423.6 L1222.5 1423.5 L1224.0 1425.3 L1225.5 1426.8 L1227.0 1429.2 L1228.5 1430.7 L1230.0 1430.0 L1231.5 1428.9 L1233.0 1430.0 L1234.5 1427.8 L1236.0 1427.2 L1237.5 1430.0 L1239.0 1427.3 L1240.5 1427.3 L1242.0 1428.2 L1243.5 1430.4 L1245.0 1428.6 L1246.5 1430.4 L1248.0 1429.4 L1249.5 1428.2 L1251.0 1429.9 L1252.5 1429.9 L1254.0 1428.9 L1255.5 1429.1 L1257.0 1429.7 L1258.5 1431.7 L1260.0 1431.4 L1261.5 1431.5 L1263.0 1431.7 L1264.5 1430.3 L1266.0 1431.0 L1267.5 1429.4 L1269.0 1428.5 L1270.5 1429.4 L1272.0 1430.9 L1273.5 1431.5 L1275.0 1432.5 L1276.5 1429.8 L1278.0 1431.6 L1279.5 1432.7 L1281.0 1432.2 L1282.5 1433.3 L1284.0 1432.7 L1285.5 1432.0 L1287.0 1433.9 L1288.5 1431.7 L1290.0 1433.5 L1291.5 1431.8 L1293.0 1430.2 L1294.5 1430.3 L1296.0 1430.5 L1297.5 1430.3 L1299.0 1430.9 L1300.5 1428.9 L1302.0 1432.2 L1303.5 1432.8 L1305.0 1431.9 L1306.5 1428.3 L1308.0 1426.2 L1309.5 1428.0 L1311.0 1428.9 L1312.5 1428.6 L1314.0 1426.9 L1315.5 1425.9 L1317.0 1423.6 L1318.5 1420.0 L1320.0 1419.8 L1321.5 1414.8 L1323.0 1413.3 L1324.5 1411.6 L1326.0 1407.4 L1327.5 1405.7 L1329.0 1404.7 L1330.5 1400.8 L1332.0 1398.9 L1333.5 1395.9 L1335.0 1392.7 L1336.5 1389.8 L1338.0 1386.0 L1339.5 1383.0 L1341.0 1380.2 L1342.5 1376.1 L1344.0 1371.6 L1345.5 1366.3 L1347.0 1363.4 L1348.5 1360.9 L1350.0 1356.7 L1351.5 1352.4 L1353.0 1347.9 L1354.5 1344.5 L1356.0 1342.0 L1357.5 1339.3 L1359.0 1334.5 L1360.5 1331.6 L1362.0 1326.4 L1363.5 1323.5 L1365.0 1318.9 L1366.5 1316.7 L1368.0 1313.5 L1369.5 1314.8 L1371.0 1316.0 L1372.5 1317.0 L1374.0 1319.8 L1375.5 1322.1 L1377.0 1324.1 L1378.5 1327.9 L1380.0 1332.0 L1381.5 1337.3 L1383.0 1341.2 L1384.5 1343.1 L1386.0 1346.5 L1387.5 1350.3 L1389.0 1353.2 L1390.5 1356.9 L1392.0 1361.4 L1393.5 1364.5 L1395.0 1367.6 L1396.5 1371.6 L1398.0 1377.1 L1399.5 1379.2 L1401.0 1382.0 L1402.5 1383.5 L1404.0 1386.0 L1405.5 1388.8 L1407.0 1389.8 L1408.5 1392.2 L1410.0 1392.6 L1411.5 1392.3 L1413.0 1392.9 L1414.5 1397.7 L1416.0 1398.3 L1417.5 1401.2 L1419.0 1400.6 L1420.5 1400.6 L1422.0 1402.5 L1423.5 1402.3 L1425.0 1402.4 L1426.5 1402.1 L1428.0 1404.8 L1429.5 1406.1 L1431.0 1405.2 L1432.5 1407.3 L1434.0 1406.2 L1435.5 1406.8 L1437.0 1405.5 L1438.5 1406.3 L1440.0 1411.8 L1441.5 1412.6 L1443.0 1412.2 L1444.5 1409.6 L1446.0 1412.0 L1447.5 1412.9 L1449.0 1413.2 L1450.5 1413.3 L1452.0 1412.7 L1453.5 1413.7 L1455.0 1413.9 L1456.5 1415.2 L1458.0 1416.8 L1459.5 1416.1 L1461.0 1417.0 L1462.5 1417.4 L1464.0 1418.5 L1465.5 1419.3 L1467.0 1419.3 L1468.5 1419.1 L1470.0 1416.9 L1471.5 1418.1 L1473.0 1419.5 L1474.5 1417.3 L1476.0 1417.2 L1477.5 1416.9 L1479.0 1419.0 L1480.5 1417.6 L1482.0 1416.9 L1483.5 1418.9 L1485.0 1420.4 L1486.5 1420.2 L1488.0 1420.6 L1489.5 1419.9 L1491.0 1419.1 L1492.5 1419.2 L1494.0 1419.0 L1495.5 1419.4 L1497.0 1420.4 L1498.5 1420.5 L1500.0 1420.7 L1501.5 1421.4 L1503.0 1419.9 L1504.5 1418.1 L1506.0 1418.0 L1507.5 1417.7 L1509.0 1417.1 L1510.5 1419.1 L1512.0 1417.9 L1513.5 1417.6 L1515.0 1418.0 L1516.5 1419.9 L1518.0 1419.0 L1519.5 1419.6 L1521.0 1418.3 L1522.5 1417.5 L1524.0 1418.0 L1525.5 1417.9 L1527.0 1416.8 L1528.5 1414.8 L1530.0 1414.5 L1531.5 1413.4 L1533.0 1414.0 L1534.5 1415.2 L1536.0 1416.8 L1537.5 1416.3 L1539.0 1415.3 L1540.5 1415.0 L1542.0 1415.0 L1543.5 1417.3 L1545.0 1416.1 L1546.5 1416.4 L1548.0 1413.6 L1549.5 1413.2 L1551.0 1413.4 L1552.5 1412.3 L1554.0 1412.0 L1555.5 1411.2 L1557.0 1413.6 L1558.5 1414.0 L1560.0 1414.7 L1561.5 1414.0 L1563.0 1412.6 L1564.5 1415.9 L1566.0 1416.9 L1567.5 1414.2 L1569.0 1414.3 L1570.5 1415.4 L1572.0 1415.7 L1573.5 1415.5 L1575.0 1420.1 L1576.5 1420.5 L1578.0 1418.7 L1579.5 1418.1 L1581.0 1421.7 L1582.5 1424.5 L1584.0 1424.6 L1585.5 1424.3 L1587.0 1422.6 L1588.5 1423.4 L1590.0 1423.0 L1591.5 1427.0 L1593.0 1426.0 L1594.5 1422.8 L1596.0 1424.1 L1597.5 1427.6 L1599.0 1428.6 L1600.5 1428.8 L1602.0 1430.6 L1603.5 1432.9 L1605.0 1431.3 L1606.5 1429.7 L1608.0 1431.6 L1609.5 1431.6 L1611.0 1433.4 L1612.5 1436.4 L1614.0 1436.8 L1615.5 1436.8 L1617.0 1438.1 L1618.5 1438.6"/>
</g></g>
<g stroke="#111" fill="none">
<path stroke-width="4.4" d="M40.4 0 V1469.9 M38.2 1.95 H1619.9 M38.2 1467.9 H1619.9 M38.2 735.3 H1619.9"/>
<path stroke-width="3.7" d="M1618 0 V1469.9"/>
<path stroke-width="4.4" d="M183.9 0 V12.8 M183.9 724 V747 M183.9 1457 V1466 M327.4 0 V12.8 M327.4 724 V747 M327.4 1457 V1466 M470.8 0 V12.8 M470.8 724 V747 M470.8 1457 V1466 M614.3 0 V12.8 M614.3 724 V747 M614.3 1457 V1466 M757.8 0 V12.8 M757.8 724 V747 M757.8 1457 V1466 M901.2 0 V12.8 M901.2 724 V747 M901.2 1457 V1466 M1044.6 0 V12.8 M1044.6 724 V747 M1044.6 1457 V1466 M1188.1 0 V12.8 M1188.1 724 V747 M1188.1 1457 V1466 M1331.5 0 V12.8 M1331.5 724 V747 M1331.5 1457 V1466 M1475.0 0 V12.8 M1475.0 724 V747 M1475.0 1457 V1466"/>
<path stroke-width="3.3" d="M40 0 H92.9 V53.9 H40"/>
<path stroke-width="2.8" d="M40 737 H93.4 V787.8 H40"/>
</g>
<g stroke="#464646" stroke-width="3" stroke-linecap="round" fill="none">
<line x1="1307.5" y1="773.2" x2="1485" y2="773.2" stroke-dasharray="2 15.4"/>
<line x1="1311.5" y1="804.2" x2="1483" y2="804.2" stroke-dasharray="18.7 15.5 1 15 1 16.3"/>
<line x1="1311.5" y1="835.6" x2="1482.5" y2="835.6" stroke-dasharray="18.7 15.5 1 15.6"/>
</g>
<text transform="translate(146.03 216.68) scale(0.9479 1)" font-size="34.77">Ilt,</text>
<text transform="translate(142.20 251.42) scale(0.8188 1)" font-size="38.14">Ms</text>
<text transform="translate(168.01 314.91) rotate(-90) scale(0.7992 1)" font-size="28.59">5.02</text>
<text transform="translate(281.00 298.87) scale(0.9545 1)" font-size="34.88">Ilt,</text>
<text transform="translate(277.00 333.62) scale(0.8188 1)" font-size="38.14">Ms</text>
<text transform="translate(309.23 393.75) rotate(-90) scale(0.8231 1)" font-size="27.46">4.52</text>
<text transform="translate(345.02 349.81) scale(1.0381 1)" font-size="30.45">Qz</text>
<text transform="translate(383.72 415.05) rotate(-90) scale(0.8044 1)" font-size="28.17">4.28</text>
<text transform="translate(370.80 205.85) scale(0.9041 1)" font-size="34.59">Kfs</text>
<text transform="translate(401.30 269.04) rotate(-90) scale(0.8375 1)" font-size="26.14">4.24</text>
<text transform="translate(548.80 419.45) scale(0.8971 1)" font-size="34.86">Kfs</text>
<text transform="translate(584.52 472.93) rotate(-90) scale(0.7385 1)" font-size="28.03">3.81</text>
<text transform="translate(674.04 363.33) scale(0.8508 1)" font-size="36.62">Chl</text>
<text transform="translate(707.23 420.29) rotate(-90) scale(0.8228 1)" font-size="27.18">3.53</text>
<text transform="translate(680.84 619.07) rotate(-90) scale(0.8244 1)" font-size="26.48">3.57</text>
<text transform="translate(846.69 47.06) scale(0.8754 1)" font-size="35.70">Ilt,</text>
<text transform="translate(837.82 80.83) scale(0.8457 1)" font-size="36.71">Ms,</text>
<text transform="translate(838.74 112.05) scale(0.9173 1)" font-size="33.93">Qz,</text>
<text transform="translate(840.00 148.84) scale(0.8584 1)" font-size="36.35">Kfs</text>
<text transform="translate(817.91 164.60) rotate(-90) scale(0.7859 1)" font-size="28.73">3.33</text>
<text transform="translate(988.18 318.89) scale(0.8844 1)" font-size="35.47">Ilt,</text>
<text transform="translate(983.51 352.82) scale(0.8136 1)" font-size="38.29">Ms</text>
<text transform="translate(1006.02 409.88) rotate(-90) scale(0.7958 1)" font-size="27.61">3.04</text>
<text transform="translate(1028.08 367.40) scale(0.8873 1)" font-size="35.35">Ilt,</text>
<text transform="translate(1023.33 401.42) scale(0.8071 1)" font-size="38.29">Ms</text>
<text transform="translate(1050.22 458.48) rotate(-90) scale(0.8000 1)" font-size="27.61">3.00</text>
<text transform="translate(1154.11 373.88) scale(0.8864 1)" font-size="36.28">Ilt,</text>
<text transform="translate(1150.23 407.92) scale(0.8071 1)" font-size="38.29">Ms</text>
<text transform="translate(1181.41 466.66) rotate(-90) scale(0.7392 1)" font-size="28.59">2.81</text>
<text transform="translate(1355.20 328.15) scale(0.8839 1)" font-size="36.51">Ilt,</text>
<text transform="translate(1351.01 362.13) scale(0.8364 1)" font-size="37.14">Ms</text>
<text transform="translate(1347.56 400.93) scale(0.8329 1)" font-size="27.32">2.58</text>
<text transform="translate(1436.35 397.23) scale(0.8457 1)" font-size="36.76">Chl</text>
<text transform="translate(1485.85 397.23) scale(0.8457 1)" font-size="36.76">Chl</text>
<text transform="translate(1479.92 452.94) rotate(-90) scale(0.7407 1)" font-size="28.17">2.51</text>
<text transform="translate(1516.12 453.03) rotate(-90) scale(0.8042 1)" font-size="28.03">2.48</text>
<text transform="translate(1075.22 604.53) scale(0.8417 1)" font-size="36.89">Kfs</text>
<text transform="translate(1107.92 658.55) rotate(-90) scale(0.7484 1)" font-size="28.17">2.91</text>
<text transform="translate(1529.55 618.62) scale(0.8245 1)" font-size="37.70">Chl</text>
<text transform="translate(1562.62 675.93) rotate(-90) scale(0.8185 1)" font-size="27.61">2.43</text>
<text transform="translate(1629.35 281.88) rotate(90) scale(0.9770 1)" font-size="34.86" font-style="italic">Bond Formation</text>
<text transform="translate(137.93 994.03) scale(0.8887 1)" font-size="35.93">Ilt,</text>
<text transform="translate(133.51 1028.53) scale(0.8484 1)" font-size="36.71">Ms</text>
<text transform="translate(164.12 1087.49) rotate(-90) scale(0.7956 1)" font-size="28.03">5.05</text>
<text transform="translate(281.09 898.84) scale(0.9043 1)" font-size="35.81">Ilt,</text>
<text transform="translate(277.00 933.21) scale(0.7978 1)" font-size="39.14">Ms</text>
<text transform="translate(304.61 1012.74) rotate(-90) scale(0.7666 1)" font-size="28.86">4.52 Å</text>
<text transform="translate(359.40 1077.99) scale(0.9771 1)" font-size="32.70">Qz</text>
<text transform="translate(390.10 1138.85) rotate(-90) scale(0.7894 1)" font-size="28.57">4.27</text>
<text transform="translate(560.48 1062.27) scale(0.9134 1)" font-size="35.58">Ilt,</text>
<text transform="translate(556.10 1096.61) scale(0.8097 1)" font-size="38.57">Ms</text>
<text transform="translate(584.61 1158.89) rotate(-90) scale(0.7742 1)" font-size="28.73">3.75</text>
<text transform="translate(674.32 1064.33) scale(0.8576 1)" font-size="36.76">Chl</text>
<text transform="translate(707.01 1123.59) rotate(-90) scale(0.7709 1)" font-size="29.01">3.53</text>
<text transform="translate(823.54 778.34) scale(0.9170 1)" font-size="35.81">Ilt,</text>
<text transform="translate(815.24 812.43) scale(0.8551 1)" font-size="37.44">Ms,</text>
<text transform="translate(816.81 843.39) scale(0.9905 1)" font-size="32.13">Qz,</text>
<text transform="translate(817.26 880.84) scale(0.8749 1)" font-size="36.35">Kfs</text>
<text transform="translate(804.52 1020.59) rotate(-90) scale(0.7980 1)" font-size="28.03">3.36</text>
<text transform="translate(1357.93 1074.84) scale(0.8916 1)" font-size="35.81">Ilt,</text>
<text transform="translate(1353.20 1109.02) scale(0.8312 1)" font-size="37.57">Ms</text>
<text transform="translate(1349.76 1144.44) scale(0.8620 1)" font-size="26.34">2.58</text>
<text transform="translate(1421.82 1054.92) scale(0.8391 1)" font-size="37.57">Chl</text>
<text transform="translate(1456.32 1113.83) rotate(-90) scale(0.8042 1)" font-size="28.03">2.52</text>
<text transform="translate(1479.22 1113.53) scale(0.8576 1)" font-size="36.76">Chl</text>
<text transform="translate(1516.40 1172.43) rotate(-90) scale(0.7929 1)" font-size="28.43">2.47</text>
<text transform="translate(1528.36 1342.62) scale(0.8179 1)" font-size="37.57">Chl</text>
<text transform="translate(1562.52 1399.93) rotate(-90) scale(0.8143 1)" font-size="27.75">2.43</text>
<text transform="translate(1629.25 963.99) rotate(90) scale(0.9644 1)" font-size="35.00" font-style="italic">Shelburn Formation</text>
<text transform="translate(55.16 39.49) scale(0.9358 1)" font-size="40.73" font-weight="bold">a</text>
<text transform="translate(53.68 775.59) scale(1.0656 1)" font-size="40.54" font-weight="bold">b</text>
<text transform="translate(116.75 50.77) scale(0.9524 1)" font-size="42.82" font-weight="bold">LSC-16</text>
<text transform="translate(113.15 783.38) scale(0.9649 1)" font-size="42.25" font-weight="bold">LSC-24</text>
<text transform="translate(25.25 862.02) rotate(-90) scale(1.0582 1)" font-size="32.13">Relative Intensity</text>
<text transform="translate(1131.63 784.67) scale(1.0088 1)" font-size="33.96" font-weight="bold" fill="#EC5C02">&lt;2.0 µm</text>
<text transform="translate(1131.63 815.17) scale(1.0088 1)" font-size="33.96" font-weight="bold" fill="#02A434">&lt;0.2 µm</text>
<text transform="translate(1131.63 845.88) scale(0.9959 1)" font-size="34.40" font-weight="bold" fill="#8C2CB4">&lt;0.1 µm</text>
<text transform="translate(1495.29 783.85) scale(0.9726 1)" font-size="35.07">2.58</text>
<text transform="translate(1571.40 783.90) scale(1.0364 1)" font-size="33.33">Å</text>
<text transform="translate(805.23 1568.88) scale(1.0267 1)" font-size="40.11">(Cu-Kα)</text>
<text transform="translate(24.80 1511.88) scale(0.7775 1)" font-size="41.83">16</text>
<text transform="translate(166.95 1511.88) scale(0.7606 1)" font-size="41.83">18</text>
<text transform="translate(302.95 1511.88) scale(0.7898 1)" font-size="41.83">20</text>
<text transform="translate(448.84 1512.30) scale(0.7817 1)" font-size="42.43">22</text>
<text transform="translate(593.00 1512.30) scale(0.7551 1)" font-size="42.43">24</text>
<text transform="translate(734.35 1511.88) scale(0.7898 1)" font-size="41.83">26</text>
<text transform="translate(878.96 1511.88) scale(0.7851 1)" font-size="41.83">28</text>
<text transform="translate(1027.79 1511.88) scale(0.7822 1)" font-size="41.83">30</text>
<text transform="translate(1172.51 1511.88) scale(0.7734 1)" font-size="41.83">32</text>
<text transform="translate(1312.43 1511.88) scale(0.7585 1)" font-size="41.83">34</text>
<text transform="translate(1455.82 1511.88) scale(0.7659 1)" font-size="41.83">36</text>
<text transform="translate(1601.72 1511.88) scale(0.7659 1)" font-size="41.83">38</text>
<text y="814" font-size="34.5"><tspan x="1495.3">2</tspan><tspan x="1516.3" font-style="italic">M</tspan><tspan x="1543.9" font-size="17.4">1</tspan></text>
<text y="844.8" font-size="34.5"><tspan x="1495.8">1</tspan><tspan x="1516.3" font-style="italic">M</tspan></text>
<text x="733.5" y="1569.3" font-size="41.5" font-weight="bold" transform="translate(733.5 0) scale(0.95 1) translate(-733.5 0)">°2θ</text>
</g></svg></body></html>
